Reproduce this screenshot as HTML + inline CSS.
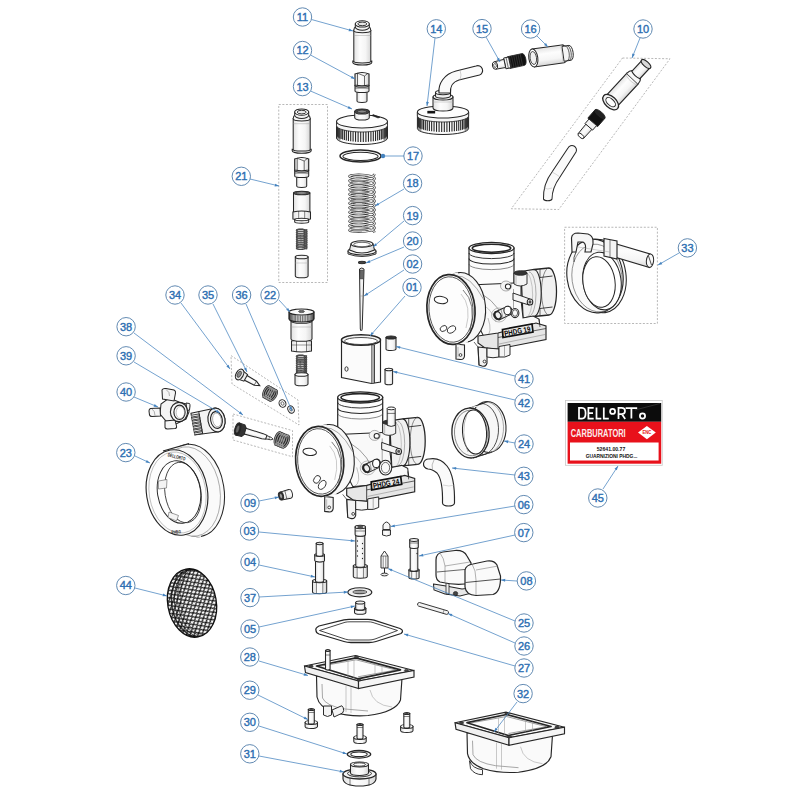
<!DOCTYPE html>
<html><head><meta charset="utf-8"><style>
html,body{margin:0;padding:0;background:#fff;width:800px;height:800px;overflow:hidden}
svg{display:block}
.n{font-family:"Liberation Sans",sans-serif;font-weight:normal;font-size:11px;fill:#2d6fb2;stroke:#2d6fb2;stroke-width:0.4px}
</style></head><body>
<svg width="800" height="800" viewBox="0 0 800 800">
<defs>
<linearGradient id="cyl" x1="0" x2="1" y1="0" y2="0">
<stop offset="0" stop-color="#e2e2e2"/><stop offset="0.35" stop-color="#fdfdfd"/><stop offset="0.7" stop-color="#f5f5f5"/><stop offset="1" stop-color="#d6d6d6"/>
</linearGradient>
<linearGradient id="cylv" x1="0" x2="0" y1="0" y2="1">
<stop offset="0" stop-color="#e2e2e2"/><stop offset="0.35" stop-color="#fdfdfd"/><stop offset="0.7" stop-color="#f5f5f5"/><stop offset="1" stop-color="#d6d6d6"/>
</linearGradient>
</defs>
<rect width="800" height="800" fill="#fff"/>
<polygon points="278.75,104.5 327.5,104.5 327.5,282.5 278.75,282.5" fill="none" stroke="#9a9a9a" stroke-width="0.7" stroke-dasharray="2 1.6"/>
<polygon points="622.5,58 670,58.75 558.75,209.5 511.25,208.75" fill="none" stroke="#9a9a9a" stroke-width="0.7" stroke-dasharray="2 1.6"/>
<polygon points="564.6,227.25 657.4,227.25 657.4,323.5 564.6,323.5" fill="none" stroke="#9a9a9a" stroke-width="0.7" stroke-dasharray="2 1.6"/>
<polygon points="231,355.6 298,400 299,425 232,384" fill="none" stroke="#9a9a9a" stroke-width="0.7" stroke-dasharray="2 1.6"/>
<polygon points="233,414 292.5,430.6 292.5,456.8 233,440" fill="none" stroke="#9a9a9a" stroke-width="0.7" stroke-dasharray="2 1.6"/>
<path d="M353.8,30.5 L353.8,61.5 A8.5,2.2 0 0 0 370.8,61.5 L370.8,30.5 Z" fill="url(#cyl)" stroke="#262626" stroke-width="1.03"/><ellipse cx="362.3" cy="30.5" rx="8.5" ry="2.2" fill="#f4f4f4" stroke="#262626" stroke-width="1.03" />
<path d="M352.8,60.5 L352.8,62.5 A9.5,2.6 0 0 0 371.8,62.5 L371.8,60.5 A9.5,2.4 0 0 1 352.8,60.5 Z" fill="#efefef" stroke="#262626" stroke-width="1.03" />
<line x1="353.8" y1="35.5" x2="370.8" y2="35.5" stroke="#999" stroke-width="0.46" />
<path d="M353.8,30.5 Q353.8,27.5 356,26.5 L368.6,26.5 Q370.8,27.5 370.8,30.5" fill="#f7f7f7" stroke="#262626" stroke-width="1.03" />
<path d="M355.3,23.9 L355.3,27 A7,3.2 0 0 0 369.3,27 L369.3,23.9 Z" fill="#f3f3f3" stroke="#262626" stroke-width="1.03"/><ellipse cx="362.3" cy="23.9" rx="7" ry="3.2" fill="#fff" stroke="#262626" stroke-width="1.03" />
<ellipse cx="362.3" cy="23.9" rx="4.5" ry="1.8" fill="#e8e8e8" stroke="#262626" stroke-width="0.92" />
<path d="M357,91 L357,101 A5,1.4 0 0 0 367,101 L367,91 Z" fill="url(#cyl)" stroke="#262626" stroke-width="1.03"/><ellipse cx="362" cy="91" rx="5" ry="1.4" fill="#fff" stroke="#262626" stroke-width="1.03" />
<path d="M355,85.5 L355,91 A7,1.6 0 0 0 369,91 L369,85.5 Z" fill="url(#cyl)" stroke="#262626" stroke-width="1.03"/><ellipse cx="362" cy="85.5" rx="7" ry="1.6" fill="#fff" stroke="#262626" stroke-width="1.03" />
<line x1="355" y1="88" x2="369" y2="88" stroke="#262626" stroke-width="0.69" />
<path d="M355,74 L355,85 Q362,86.5 369,85 L369,74 Q362,71 355,74 Z" fill="url(#cyl)" stroke="#262626" stroke-width="1.15" />
<line x1="357.5" y1="73" x2="357.5" y2="85.5" stroke="#262626" stroke-width="0.69" />
<line x1="364.5" y1="76" x2="364.5" y2="86" stroke="#262626" stroke-width="0.69" />
<path d="M357.5,73.2 L364.5,76 L368,73.2" fill="none" stroke="#262626" stroke-width="0.69" />
<path d="M336.5,121.5 L336.5,138 A25.5,6.5 0 0 0 387.5,138 L387.5,121.5 Z" fill="#fafafa" stroke="#262626" stroke-width="1"/>
<line x1="337.13" y1="123.64" x2="337.13" y2="135.84" stroke="#262626" stroke-width="1.09" />
<line x1="337.41" y1="124.32" x2="337.41" y2="136.52" stroke="#262626" stroke-width="1.09" />
<line x1="337.95" y1="124.98" x2="337.95" y2="137.18" stroke="#262626" stroke-width="1.09" />
<line x1="338.75" y1="125.63" x2="338.75" y2="137.83" stroke="#262626" stroke-width="1.09" />
<line x1="339.81" y1="126.25" x2="339.81" y2="138.45" stroke="#262626" stroke-width="1.09" />
<line x1="341.12" y1="126.84" x2="341.12" y2="139.04" stroke="#262626" stroke-width="1.09" />
<line x1="342.65" y1="127.39" x2="342.65" y2="139.59" stroke="#262626" stroke-width="1.09" />
<line x1="344.39" y1="127.9" x2="344.39" y2="140.1" stroke="#262626" stroke-width="1.09" />
<line x1="346.33" y1="128.35" x2="346.33" y2="140.55" stroke="#262626" stroke-width="1.09" />
<line x1="348.44" y1="128.75" x2="348.44" y2="140.95" stroke="#262626" stroke-width="1.09" />
<line x1="350.7" y1="129.09" x2="350.7" y2="141.29" stroke="#262626" stroke-width="1.09" />
<line x1="353.08" y1="129.37" x2="353.08" y2="141.57" stroke="#262626" stroke-width="1.09" />
<line x1="355.56" y1="129.58" x2="355.56" y2="141.78" stroke="#262626" stroke-width="1.09" />
<line x1="358.1" y1="129.72" x2="358.1" y2="141.92" stroke="#262626" stroke-width="1.09" />
<line x1="360.7" y1="129.79" x2="360.7" y2="141.99" stroke="#262626" stroke-width="1.09" />
<line x1="363.3" y1="129.79" x2="363.3" y2="141.99" stroke="#262626" stroke-width="1.09" />
<line x1="365.9" y1="129.72" x2="365.9" y2="141.92" stroke="#262626" stroke-width="1.09" />
<line x1="368.44" y1="129.58" x2="368.44" y2="141.78" stroke="#262626" stroke-width="1.09" />
<line x1="370.92" y1="129.37" x2="370.92" y2="141.57" stroke="#262626" stroke-width="1.09" />
<line x1="373.3" y1="129.09" x2="373.3" y2="141.29" stroke="#262626" stroke-width="1.09" />
<line x1="375.56" y1="128.75" x2="375.56" y2="140.95" stroke="#262626" stroke-width="1.09" />
<line x1="377.67" y1="128.35" x2="377.67" y2="140.55" stroke="#262626" stroke-width="1.09" />
<line x1="379.61" y1="127.9" x2="379.61" y2="140.1" stroke="#262626" stroke-width="1.09" />
<line x1="381.35" y1="127.39" x2="381.35" y2="139.59" stroke="#262626" stroke-width="1.09" />
<line x1="382.88" y1="126.84" x2="382.88" y2="139.04" stroke="#262626" stroke-width="1.09" />
<line x1="384.19" y1="126.25" x2="384.19" y2="138.45" stroke="#262626" stroke-width="1.09" />
<line x1="385.25" y1="125.63" x2="385.25" y2="137.83" stroke="#262626" stroke-width="1.09" />
<line x1="386.05" y1="124.98" x2="386.05" y2="137.18" stroke="#262626" stroke-width="1.09" />
<line x1="386.59" y1="124.32" x2="386.59" y2="136.52" stroke="#262626" stroke-width="1.09" />
<line x1="386.87" y1="123.64" x2="386.87" y2="135.84" stroke="#262626" stroke-width="1.09" />
<path d="M336.5,126.5 L336.5,138 A25.5,6.5 0 0 0 340.5,141 L340.5,129.5 Z" fill="#333" opacity="0.5"/>
<path d="M387.5,126.5 L387.5,138 A25.5,6.5 0 0 1 383.5,141 L383.5,129.5 Z" fill="#333" opacity="0.5"/>
<path d="M336.5,121.5 L336.5,125.5 A25.5,6.5 0 0 0 387.5,125.5 L387.5,121.5 Z" fill="#f6f6f6" stroke="#262626" stroke-width="0.8"/>
<ellipse cx="362" cy="121.5" rx="25.5" ry="6.5" fill="#fdfdfd" stroke="#262626" stroke-width="1.03" />
<path d="M354.7,111.5 L354.7,117.5 A7.3,2.6 0 0 0 369.3,117.5 L369.3,111.5 Z" fill="url(#cyl)" stroke="#262626" stroke-width="1.03"/><ellipse cx="362" cy="111.5" rx="7.3" ry="2.6" fill="#444" stroke="#262626" stroke-width="1.03" />
<ellipse cx="362" cy="111.5" rx="4.2" ry="1.5" fill="#888" stroke="#262626" stroke-width="0.69" />
<path d="M372,115.5 L378,118 L380,117.3 L373,114.5 Z" fill="#222" stroke="#262626" stroke-width="0.57" />
<path d="M417.4,112 L417.4,128.5 A25.6,6 0 0 0 468.6,128.5 L468.6,112 Z" fill="#fafafa" stroke="#262626" stroke-width="1"/>
<line x1="418.03" y1="114.11" x2="418.03" y2="126.31" stroke="#262626" stroke-width="1.09" />
<line x1="418.31" y1="114.74" x2="418.31" y2="126.94" stroke="#262626" stroke-width="1.09" />
<line x1="418.85" y1="115.35" x2="418.85" y2="127.55" stroke="#262626" stroke-width="1.09" />
<line x1="419.66" y1="115.95" x2="419.66" y2="128.15" stroke="#262626" stroke-width="1.09" />
<line x1="420.72" y1="116.52" x2="420.72" y2="128.72" stroke="#262626" stroke-width="1.09" />
<line x1="422.03" y1="117.07" x2="422.03" y2="129.27" stroke="#262626" stroke-width="1.09" />
<line x1="423.57" y1="117.58" x2="423.57" y2="129.78" stroke="#262626" stroke-width="1.09" />
<line x1="425.32" y1="118.04" x2="425.32" y2="130.24" stroke="#262626" stroke-width="1.09" />
<line x1="427.27" y1="118.46" x2="427.27" y2="130.66" stroke="#262626" stroke-width="1.09" />
<line x1="429.38" y1="118.83" x2="429.38" y2="131.03" stroke="#262626" stroke-width="1.09" />
<line x1="431.65" y1="119.15" x2="431.65" y2="131.35" stroke="#262626" stroke-width="1.09" />
<line x1="434.04" y1="119.4" x2="434.04" y2="131.6" stroke="#262626" stroke-width="1.09" />
<line x1="436.53" y1="119.6" x2="436.53" y2="131.8" stroke="#262626" stroke-width="1.09" />
<line x1="439.09" y1="119.73" x2="439.09" y2="131.93" stroke="#262626" stroke-width="1.09" />
<line x1="441.69" y1="119.79" x2="441.69" y2="131.99" stroke="#262626" stroke-width="1.09" />
<line x1="444.31" y1="119.79" x2="444.31" y2="131.99" stroke="#262626" stroke-width="1.09" />
<line x1="446.91" y1="119.73" x2="446.91" y2="131.93" stroke="#262626" stroke-width="1.09" />
<line x1="449.47" y1="119.6" x2="449.47" y2="131.8" stroke="#262626" stroke-width="1.09" />
<line x1="451.96" y1="119.4" x2="451.96" y2="131.6" stroke="#262626" stroke-width="1.09" />
<line x1="454.35" y1="119.15" x2="454.35" y2="131.35" stroke="#262626" stroke-width="1.09" />
<line x1="456.62" y1="118.83" x2="456.62" y2="131.03" stroke="#262626" stroke-width="1.09" />
<line x1="458.73" y1="118.46" x2="458.73" y2="130.66" stroke="#262626" stroke-width="1.09" />
<line x1="460.68" y1="118.04" x2="460.68" y2="130.24" stroke="#262626" stroke-width="1.09" />
<line x1="462.43" y1="117.58" x2="462.43" y2="129.78" stroke="#262626" stroke-width="1.09" />
<line x1="463.97" y1="117.07" x2="463.97" y2="129.27" stroke="#262626" stroke-width="1.09" />
<line x1="465.28" y1="116.52" x2="465.28" y2="128.72" stroke="#262626" stroke-width="1.09" />
<line x1="466.34" y1="115.95" x2="466.34" y2="128.15" stroke="#262626" stroke-width="1.09" />
<line x1="467.15" y1="115.35" x2="467.15" y2="127.55" stroke="#262626" stroke-width="1.09" />
<line x1="467.69" y1="114.74" x2="467.69" y2="126.94" stroke="#262626" stroke-width="1.09" />
<line x1="467.97" y1="114.11" x2="467.97" y2="126.31" stroke="#262626" stroke-width="1.09" />
<path d="M417.4,117 L417.4,128.5 A25.6,6 0 0 0 421.4,131.5 L421.4,120 Z" fill="#333" opacity="0.5"/>
<path d="M468.6,117 L468.6,128.5 A25.6,6 0 0 1 464.6,131.5 L464.6,120 Z" fill="#333" opacity="0.5"/>
<path d="M417.4,112 L417.4,116 A25.6,6 0 0 0 468.6,116 L468.6,112 Z" fill="#f6f6f6" stroke="#262626" stroke-width="0.8"/>
<ellipse cx="443" cy="112" rx="25.6" ry="6" fill="#fdfdfd" stroke="#262626" stroke-width="1.03" />
<path d="M443,95 " fill="none" stroke="#262626" stroke-width="1.03" />
<path d="M433,97 L433,108 A10,3 0 0 0 453,108 L453,97 Z" fill="url(#cyl)" stroke="#262626" stroke-width="1.03"/><ellipse cx="443" cy="97" rx="10" ry="3" fill="#f4f4f4" stroke="#262626" stroke-width="1.03" />
<line x1="433" y1="102" x2="453" y2="102" stroke="#aaa" stroke-width="0.46" />
<path d="M435.5,92.5 L435.5,96 A7.5,2.2 0 0 0 450.5,96 L450.5,92.5 Z" fill="#f0f0f0" stroke="#262626" stroke-width="1.03"/><ellipse cx="443" cy="92.5" rx="7.5" ry="2.2" fill="#fff" stroke="#262626" stroke-width="1.03" />
<path d="M427.5,111 L435,111 L435,113.3 L427.5,113.3 Z" fill="#111" stroke="#262626" stroke-width="0.34" />
<path d="M439,93 C438,84 444,74 456,71 L476,66 A4.8,4.8 0 0 1 479.5,75 L459,80 C452,82 450,88 450.5,93 Z" fill="#fafafa" stroke="#262626" stroke-width="1.09" />
<path d="M460,70 Q462,75 460,80" fill="none" stroke="#999" stroke-width="0.46" />
<g transform="translate(533.3,58) rotate(-8)"><path d="M0,-9 L30,-9 A4.5,9 0 0 1 30,9 L0,9 Z" fill="url(#cylv)" stroke="#262626" stroke-width="1.03" /><ellipse cx="0" cy="0" rx="4.5" ry="9" fill="#fff" stroke="#262626" stroke-width="1.03" /><ellipse cx="0" cy="0" rx="3.2" ry="6.5" fill="#f0f0f0" stroke="#262626" stroke-width="0.8" /><path d="M30,-7.5 L37,-7.5 A3.2,7.5 0 0 1 37,7.5 L30,7.5 Z" fill="#f5f5f5" stroke="#262626" stroke-width="0.92" /><path d="M33,-7.5 A3.2,7.5 0 0 1 33,7.5" fill="none" stroke="#262626" stroke-width="0.69" /><path d="M35,-7.5 A3.2,7.5 0 0 1 35,7.5" fill="none" stroke="#262626" stroke-width="0.69" /><line x1="29" y1="-9" x2="29" y2="9" stroke="#aaa" stroke-width="0.46" /></g>
<g transform="translate(495,65.5) rotate(-12)"><path d="M14,-6 L29,-6 A2.5,6 0 0 1 29,6 L14,6 Z" fill="#111" stroke="#262626" stroke-width="0.8" /><line x1="16" y1="-6" x2="16" y2="6" stroke="#666" stroke-width="0.34" /><line x1="18.2" y1="-6" x2="18.2" y2="6" stroke="#666" stroke-width="0.34" /><line x1="20.4" y1="-6" x2="20.4" y2="6" stroke="#666" stroke-width="0.34" /><line x1="22.6" y1="-6" x2="22.6" y2="6" stroke="#666" stroke-width="0.34" /><line x1="24.8" y1="-6" x2="24.8" y2="6" stroke="#666" stroke-width="0.34" /><line x1="27" y1="-6" x2="27" y2="6" stroke="#666" stroke-width="0.34" /><path d="M10,-5.5 L15,-5.5 L15,5.5 L10,5.5 Z" fill="#f2f2f2" stroke="#262626" stroke-width="0.92" /><line x1="12.5" y1="-5.5" x2="12.5" y2="5.5" stroke="#262626" stroke-width="0.57" /><path d="M0,-3.8 L10,-4.2 L10,4.2 L0,3.8 Z" fill="url(#cylv)" stroke="#262626" stroke-width="0.92" /><ellipse cx="0" cy="0" rx="2.6" ry="3.8" fill="#fff" stroke="#262626" stroke-width="0.92" /><ellipse cx="0" cy="0" rx="1.3" ry="2" fill="#fff" stroke="#262626" stroke-width="0.69" /></g>
<g transform="translate(646,64) rotate(42.8)"><path d="M-7.8,20 L-7.8,52 A7.8,4.2 0 0 0 7.8,52 L7.8,20 Z" fill="url(#cyl)" stroke="#262626" stroke-width="1.15" /><path d="M-7.8,20 Q-7.8,16 -5.5,14 L5.5,14 Q7.8,16 7.8,20" fill="#f8f8f8" stroke="#262626" stroke-width="1.09" /><path d="M-5.5,0 L-5.5,15 Q0,17 5.5,15 L5.5,0 Z" fill="url(#cyl)" stroke="#262626" stroke-width="1.09" /><ellipse cx="0" cy="0" rx="6" ry="2.6" fill="#d8d8d8" stroke="#262626" stroke-width="1.15" /><path d="M-7.5,22 Q0,24 7.5,22" fill="none" stroke="#aaa" stroke-width="0.46" /><ellipse cx="0" cy="52" rx="9.5" ry="5.6" fill="#f2f2f2" stroke="#262626" stroke-width="1.26" /><ellipse cx="0" cy="52" rx="5.8" ry="3.2" fill="#fff" stroke="#262626" stroke-width="0.98" /></g>
<g transform="translate(600,114) rotate(41)"><path d="M-6.5,0 L-6.5,11 Q0,13 6.5,11 L6.5,0 Z" fill="#111" stroke="#262626" stroke-width="0.92" /><ellipse cx="0" cy="0" rx="6.5" ry="2.4" fill="#222" stroke="#262626" stroke-width="0.92" /><path d="M-5,11 L-5,17 Q0,18.5 5,17 L5,11 Z" fill="#f2f2f2" stroke="#262626" stroke-width="0.92" /><path d="M-4,17 L-3.6,29 Q0,30.5 3.6,29 L4,17 Z" fill="url(#cyl)" stroke="#262626" stroke-width="0.92" /><ellipse cx="0" cy="29" rx="3.6" ry="1.8" fill="#fff" stroke="#262626" stroke-width="0.92" /></g>
<path d="M568,148 A3.8,3.8 0 0 1 576,152 L560,177 Q552,188 552,199 A4.3,2 0 0 1 543.5,199 Q543,184 552,172 Z" fill="#fafafa" stroke="#262626" stroke-width="1.03" />
<path d="M552,172 Q556,174 560,177" fill="none" stroke="#aaa" stroke-width="0.46" />
<path d="M543.6,188 Q548,190 552,188" fill="none" stroke="#aaa" stroke-width="0.46" />
<ellipse cx="360.5" cy="156" rx="20.5" ry="6" fill="none" stroke="#262626" stroke-width="1.49" />
<ellipse cx="360.5" cy="156.3" rx="17.6" ry="4.1" fill="none" stroke="#262626" stroke-width="1.03" />
<path d="M374.60,174.10 L374.17,174.96 L372.91,175.77 L370.91,176.50 L368.30,177.10 L365.26,177.55 L362.00,177.82 L358.74,177.92 L355.70,177.85 L353.09,177.62 L351.09,177.27 L349.83,176.83 L349.40,176.34 L349.83,175.86 L351.09,175.42 L353.09,175.06 L355.70,174.84 L358.74,174.77 L362.00,174.86 L365.26,175.14 L368.30,175.59 L370.91,176.19 L372.91,176.91 L374.17,177.72 L374.60,178.58 L374.17,179.44 L372.91,180.26 L370.91,180.98 L368.30,181.58 L365.26,182.03 L362.00,182.31 L358.74,182.40 L355.70,182.33 L353.09,182.10 L351.09,181.75 L349.83,181.31 L349.40,180.83 L349.83,180.34 L351.09,179.90 L353.09,179.55 L355.70,179.32 L358.74,179.25 L362.00,179.35 L365.26,179.62 L368.30,180.07 L370.91,180.67 L372.91,181.40 L374.17,182.21 L374.60,183.07 L374.17,183.93 L372.91,184.74 L370.91,185.47 L368.30,186.07 L365.26,186.51 L362.00,186.79 L358.74,186.89 L355.70,186.82 L353.09,186.59 L351.09,186.24 L349.83,185.80 L349.40,185.31 L349.83,184.83 L351.09,184.39 L353.09,184.03 L355.70,183.81 L358.74,183.73 L362.00,183.83 L365.26,184.11 L368.30,184.55 L370.91,185.15 L372.91,185.88 L374.17,186.69 L374.60,187.55 L374.17,188.41 L372.91,189.23 L370.91,189.95 L368.30,190.55 L365.26,191.00 L362.00,191.27 L358.74,191.37 L355.70,191.30 L353.09,191.07 L351.09,190.72 L349.83,190.28 L349.40,189.80 L349.83,189.31 L351.09,188.87 L353.09,188.52 L355.70,188.29 L358.74,188.22 L362.00,188.32 L365.26,188.59 L368.30,189.04 L370.91,189.64 L372.91,190.36 L374.17,191.18 L374.60,192.04 L374.17,192.90 L372.91,193.71 L370.91,194.44 L368.30,195.04 L365.26,195.48 L362.00,195.76 L358.74,195.86 L355.70,195.78 L353.09,195.56 L351.09,195.21 L349.83,194.77 L349.40,194.28 L349.83,193.79 L351.09,193.35 L353.09,193.00 L355.70,192.78 L358.74,192.70 L362.00,192.80 L365.26,193.08 L368.30,193.52 L370.91,194.12 L372.91,194.85 L374.17,195.66 L374.60,196.52 L374.17,197.38 L372.91,198.20 L370.91,198.92 L368.30,199.52 L365.26,199.97 L362.00,200.24 L358.74,200.34 L355.70,200.27 L353.09,200.04 L351.09,199.69 L349.83,199.25 L349.40,198.77 L349.83,198.28 L351.09,197.84 L353.09,197.49 L355.70,197.26 L358.74,197.19 L362.00,197.29 L365.26,197.56 L368.30,198.01 L370.91,198.61 L372.91,199.33 L374.17,200.15 L374.60,201.01 L374.17,201.87 L372.91,202.68 L370.91,203.41 L368.30,204.01 L365.26,204.45 L362.00,204.73 L358.74,204.83 L355.70,204.75 L353.09,204.53 L351.09,204.18 L349.83,203.74 L349.40,203.25 L349.83,202.76 L351.09,202.32 L353.09,201.97 L355.70,201.75 L358.74,201.67 L362.00,201.77 L365.26,202.05 L368.30,202.49 L370.91,203.09 L372.91,203.82 L374.17,204.63 L374.60,205.49 L374.17,206.35 L372.91,207.17 L370.91,207.89 L368.30,208.49 L365.26,208.94 L362.00,209.21 L358.74,209.31 L355.70,209.24 L353.09,209.01 L351.09,208.66 L349.83,208.22 L349.40,207.73 L349.83,207.25 L351.09,206.81 L353.09,206.46 L355.70,206.23 L358.74,206.16 L362.00,206.26 L365.26,206.53 L368.30,206.98 L370.91,207.58 L372.91,208.30 L374.17,209.12 L374.60,209.98 L374.17,210.84 L372.91,211.65 L370.91,212.38 L368.30,212.98 L365.26,213.42 L362.00,213.70 L358.74,213.80 L355.70,213.72 L353.09,213.50 L351.09,213.15 L349.83,212.71 L349.40,212.22 L349.83,211.73 L351.09,211.29 L353.09,210.94 L355.70,210.72 L358.74,210.64 L362.00,210.74 L365.26,211.02 L368.30,211.46 L370.91,212.06 L372.91,212.79 L374.17,213.60 L374.60,214.46 L374.17,215.32 L372.91,216.14 L370.91,216.86 L368.30,217.46 L365.26,217.91 L362.00,218.18 L358.74,218.28 L355.70,218.21 L353.09,217.98 L351.09,217.63 L349.83,217.19 L349.40,216.70 L349.83,216.22 L351.09,215.78 L353.09,215.43 L355.70,215.20 L358.74,215.13 L362.00,215.22 L365.26,215.50 L368.30,215.95 L370.91,216.55 L372.91,217.27 L374.17,218.09 L374.60,218.95 L374.17,219.81 L372.91,220.62 L370.91,221.35 L368.30,221.95 L365.26,222.39 L362.00,222.67 L358.74,222.77 L355.70,222.69 L353.09,222.47 L351.09,222.11 L349.83,221.67 L349.40,221.19 L349.83,220.70 L351.09,220.26 L353.09,219.91 L355.70,219.68 L358.74,219.61 L362.00,219.71 L365.26,219.99 L368.30,220.43 L370.91,221.03 L372.91,221.76 L374.17,222.57 L374.60,223.43 L374.17,224.29 L372.91,225.10 L370.91,225.83 L368.30,226.43 L365.26,226.88 L362.00,227.15 L358.74,227.25 L355.70,227.18 L353.09,226.95 L351.09,226.60 L349.83,226.16 L349.40,225.67 L349.83,225.19 L351.09,224.75 L353.09,224.40 L355.70,224.17 L358.74,224.10 L362.00,224.19 L365.26,224.47 L368.30,224.92 L370.91,225.52 L372.91,226.24 L374.17,227.06 L374.60,227.92 L374.17,228.78 L372.91,229.59 L370.91,230.31 L368.30,230.91 L365.26,231.36 L362.00,231.64 L358.74,231.73 L355.70,231.66 L353.09,231.44 L351.09,231.08 L349.83,230.64 L349.40,230.16 L349.83,229.67 L351.09,229.23 L353.09,228.88 L355.70,228.65 L358.74,228.58 L362.00,228.68 L365.26,228.95 L368.30,229.40 L370.91,230.00 L372.91,230.73 L374.17,231.54 L374.60,232.40" fill="none" stroke="#333" stroke-width="2.32" stroke-linejoin="round"/>
<path d="M374.60,174.10 L374.17,174.96 L372.91,175.77 L370.91,176.50 L368.30,177.10 L365.26,177.55 L362.00,177.82 L358.74,177.92 L355.70,177.85 L353.09,177.62 L351.09,177.27 L349.83,176.83 L349.40,176.34 L349.83,175.86 L351.09,175.42 L353.09,175.06 L355.70,174.84 L358.74,174.77 L362.00,174.86 L365.26,175.14 L368.30,175.59 L370.91,176.19 L372.91,176.91 L374.17,177.72 L374.60,178.58 L374.17,179.44 L372.91,180.26 L370.91,180.98 L368.30,181.58 L365.26,182.03 L362.00,182.31 L358.74,182.40 L355.70,182.33 L353.09,182.10 L351.09,181.75 L349.83,181.31 L349.40,180.83 L349.83,180.34 L351.09,179.90 L353.09,179.55 L355.70,179.32 L358.74,179.25 L362.00,179.35 L365.26,179.62 L368.30,180.07 L370.91,180.67 L372.91,181.40 L374.17,182.21 L374.60,183.07 L374.17,183.93 L372.91,184.74 L370.91,185.47 L368.30,186.07 L365.26,186.51 L362.00,186.79 L358.74,186.89 L355.70,186.82 L353.09,186.59 L351.09,186.24 L349.83,185.80 L349.40,185.31 L349.83,184.83 L351.09,184.39 L353.09,184.03 L355.70,183.81 L358.74,183.73 L362.00,183.83 L365.26,184.11 L368.30,184.55 L370.91,185.15 L372.91,185.88 L374.17,186.69 L374.60,187.55 L374.17,188.41 L372.91,189.23 L370.91,189.95 L368.30,190.55 L365.26,191.00 L362.00,191.27 L358.74,191.37 L355.70,191.30 L353.09,191.07 L351.09,190.72 L349.83,190.28 L349.40,189.80 L349.83,189.31 L351.09,188.87 L353.09,188.52 L355.70,188.29 L358.74,188.22 L362.00,188.32 L365.26,188.59 L368.30,189.04 L370.91,189.64 L372.91,190.36 L374.17,191.18 L374.60,192.04 L374.17,192.90 L372.91,193.71 L370.91,194.44 L368.30,195.04 L365.26,195.48 L362.00,195.76 L358.74,195.86 L355.70,195.78 L353.09,195.56 L351.09,195.21 L349.83,194.77 L349.40,194.28 L349.83,193.79 L351.09,193.35 L353.09,193.00 L355.70,192.78 L358.74,192.70 L362.00,192.80 L365.26,193.08 L368.30,193.52 L370.91,194.12 L372.91,194.85 L374.17,195.66 L374.60,196.52 L374.17,197.38 L372.91,198.20 L370.91,198.92 L368.30,199.52 L365.26,199.97 L362.00,200.24 L358.74,200.34 L355.70,200.27 L353.09,200.04 L351.09,199.69 L349.83,199.25 L349.40,198.77 L349.83,198.28 L351.09,197.84 L353.09,197.49 L355.70,197.26 L358.74,197.19 L362.00,197.29 L365.26,197.56 L368.30,198.01 L370.91,198.61 L372.91,199.33 L374.17,200.15 L374.60,201.01 L374.17,201.87 L372.91,202.68 L370.91,203.41 L368.30,204.01 L365.26,204.45 L362.00,204.73 L358.74,204.83 L355.70,204.75 L353.09,204.53 L351.09,204.18 L349.83,203.74 L349.40,203.25 L349.83,202.76 L351.09,202.32 L353.09,201.97 L355.70,201.75 L358.74,201.67 L362.00,201.77 L365.26,202.05 L368.30,202.49 L370.91,203.09 L372.91,203.82 L374.17,204.63 L374.60,205.49 L374.17,206.35 L372.91,207.17 L370.91,207.89 L368.30,208.49 L365.26,208.94 L362.00,209.21 L358.74,209.31 L355.70,209.24 L353.09,209.01 L351.09,208.66 L349.83,208.22 L349.40,207.73 L349.83,207.25 L351.09,206.81 L353.09,206.46 L355.70,206.23 L358.74,206.16 L362.00,206.26 L365.26,206.53 L368.30,206.98 L370.91,207.58 L372.91,208.30 L374.17,209.12 L374.60,209.98 L374.17,210.84 L372.91,211.65 L370.91,212.38 L368.30,212.98 L365.26,213.42 L362.00,213.70 L358.74,213.80 L355.70,213.72 L353.09,213.50 L351.09,213.15 L349.83,212.71 L349.40,212.22 L349.83,211.73 L351.09,211.29 L353.09,210.94 L355.70,210.72 L358.74,210.64 L362.00,210.74 L365.26,211.02 L368.30,211.46 L370.91,212.06 L372.91,212.79 L374.17,213.60 L374.60,214.46 L374.17,215.32 L372.91,216.14 L370.91,216.86 L368.30,217.46 L365.26,217.91 L362.00,218.18 L358.74,218.28 L355.70,218.21 L353.09,217.98 L351.09,217.63 L349.83,217.19 L349.40,216.70 L349.83,216.22 L351.09,215.78 L353.09,215.43 L355.70,215.20 L358.74,215.13 L362.00,215.22 L365.26,215.50 L368.30,215.95 L370.91,216.55 L372.91,217.27 L374.17,218.09 L374.60,218.95 L374.17,219.81 L372.91,220.62 L370.91,221.35 L368.30,221.95 L365.26,222.39 L362.00,222.67 L358.74,222.77 L355.70,222.69 L353.09,222.47 L351.09,222.11 L349.83,221.67 L349.40,221.19 L349.83,220.70 L351.09,220.26 L353.09,219.91 L355.70,219.68 L358.74,219.61 L362.00,219.71 L365.26,219.99 L368.30,220.43 L370.91,221.03 L372.91,221.76 L374.17,222.57 L374.60,223.43 L374.17,224.29 L372.91,225.10 L370.91,225.83 L368.30,226.43 L365.26,226.88 L362.00,227.15 L358.74,227.25 L355.70,227.18 L353.09,226.95 L351.09,226.60 L349.83,226.16 L349.40,225.67 L349.83,225.19 L351.09,224.75 L353.09,224.40 L355.70,224.17 L358.74,224.10 L362.00,224.19 L365.26,224.47 L368.30,224.92 L370.91,225.52 L372.91,226.24 L374.17,227.06 L374.60,227.92 L374.17,228.78 L372.91,229.59 L370.91,230.31 L368.30,230.91 L365.26,231.36 L362.00,231.64 L358.74,231.73 L355.70,231.66 L353.09,231.44 L351.09,231.08 L349.83,230.64 L349.40,230.16 L349.83,229.67 L351.09,229.23 L353.09,228.88 L355.70,228.65 L358.74,228.58 L362.00,228.68 L365.26,228.95 L368.30,229.40 L370.91,230.00 L372.91,230.73 L374.17,231.54 L374.60,232.40" fill="none" stroke="#e6e6e6" stroke-width="1.06" stroke-linejoin="round"/>
<path d="M348,251 L348,254 Q362,259 376,254 L376,251 Z" fill="#eee" stroke="#262626" stroke-width="0.92" />
<ellipse cx="362" cy="251" rx="14" ry="4" fill="#f8f8f8" stroke="#262626" stroke-width="1.03" />
<path d="M351,244 L349.5,250 Q362,256 374.5,250 L373,244 Z" fill="url(#cyl)" stroke="#262626" stroke-width="1.03" />
<ellipse cx="362" cy="244" rx="11" ry="3.2" fill="#f0f0f0" stroke="#262626" stroke-width="1.03" />
<ellipse cx="362" cy="244.5" rx="8.2" ry="2.2" fill="#fff" stroke="#262626" stroke-width="0.69" />
<ellipse cx="362" cy="262.5" rx="4" ry="1.2" fill="#444" stroke="#262626" stroke-width="0.92" />
<path d="M359.5,269 L360.3,329 Q361.2,333 362.2,329 L364,269 Q361.8,267 359.5,269 Z" fill="#f3f3f3" stroke="#262626" stroke-width="0.98" />
<path d="M360,270 L363.7,270 L363.6,279 L360.1,279 Z" fill="#666" stroke="#262626" stroke-width="0.34" />
<line x1="360.3" y1="296" x2="363.6" y2="296" stroke="#888" stroke-width="0.46" />
<path d="M341.5,340 L341.5,377.5 L371.5,383.5 L380.5,382 L380.5,340 Z" fill="#fbfbfb" stroke="#262626" stroke-width="1.15" />
<path d="M371.5,345 L371.5,383.5 L374.5,383 L374.5,345 Z" fill="#aaa" stroke="#262626" stroke-width="0.46" />
<line x1="374.5" y1="345" x2="374.5" y2="383" stroke="#262626" stroke-width="0.69" />
<ellipse cx="361" cy="340" rx="19.5" ry="5.2" fill="#f3f3f3" stroke="#262626" stroke-width="1.49" />
<ellipse cx="361" cy="341" rx="16.5" ry="3.5" fill="#fff" stroke="#262626" stroke-width="0.8" />
<ellipse cx="346.5" cy="369" rx="1.6" ry="2.2" fill="#fff" stroke="#262626" stroke-width="0.92" />
<path d="M386,337.5 L386,349 A5,1.6 0 0 0 396,349 L396,337.5 Z" fill="url(#cyl)" stroke="#262626" stroke-width="1.03"/><ellipse cx="391" cy="337.5" rx="5" ry="1.6" fill="#333" stroke="#262626" stroke-width="1.03" />
<path d="M385,369.5 L385,383.5 A3.8,1.3 0 0 0 392.6,383.5 L392.6,369.5 Z" fill="url(#cyl)" stroke="#262626" stroke-width="1.03"/><ellipse cx="388.8" cy="369.5" rx="3.8" ry="1.3" fill="#f5f5f5" stroke="#262626" stroke-width="1.03" />
<path d="M293.2,118.7 L293.2,149.7 A8.5,2.2 0 0 0 310.2,149.7 L310.2,118.7 Z" fill="url(#cyl)" stroke="#262626" stroke-width="1.03"/><ellipse cx="301.7" cy="118.7" rx="8.5" ry="2.2" fill="#f4f4f4" stroke="#262626" stroke-width="1.03" />
<path d="M292.2,148.7 L292.2,150.7 A9.5,2.6 0 0 0 311.2,150.7 L311.2,148.7 A9.5,2.4 0 0 1 292.2,148.7 Z" fill="#efefef" stroke="#262626" stroke-width="1.03" />
<line x1="293.2" y1="123.7" x2="310.2" y2="123.7" stroke="#999" stroke-width="0.46" />
<path d="M293.2,118.7 Q293.2,115.7 295.4,114.7 L308,114.7 Q310.2,115.7 310.2,118.7" fill="#f7f7f7" stroke="#262626" stroke-width="1.03" />
<path d="M294.7,112.1 L294.7,115.2 A7,3.2 0 0 0 308.7,115.2 L308.7,112.1 Z" fill="#f3f3f3" stroke="#262626" stroke-width="1.03"/><ellipse cx="301.7" cy="112.1" rx="7" ry="3.2" fill="#fff" stroke="#262626" stroke-width="1.03" />
<ellipse cx="301.7" cy="112.1" rx="4.5" ry="1.8" fill="#e8e8e8" stroke="#262626" stroke-width="0.92" />
<path d="M296.7,176 L296.7,186 A5,1.4 0 0 0 306.7,186 L306.7,176 Z" fill="url(#cyl)" stroke="#262626" stroke-width="1.03"/><ellipse cx="301.7" cy="176" rx="5" ry="1.4" fill="#fff" stroke="#262626" stroke-width="1.03" />
<path d="M294.7,170.5 L294.7,176 A7,1.6 0 0 0 308.7,176 L308.7,170.5 Z" fill="url(#cyl)" stroke="#262626" stroke-width="1.03"/><ellipse cx="301.7" cy="170.5" rx="7" ry="1.6" fill="#fff" stroke="#262626" stroke-width="1.03" />
<line x1="294.7" y1="173" x2="308.7" y2="173" stroke="#262626" stroke-width="0.69" />
<path d="M294.7,159 L294.7,170 Q301.7,171.5 308.7,170 L308.7,159 Q301.7,156 294.7,159 Z" fill="url(#cyl)" stroke="#262626" stroke-width="1.15" />
<line x1="297.2" y1="158" x2="297.2" y2="170.5" stroke="#262626" stroke-width="0.69" />
<line x1="304.2" y1="161" x2="304.2" y2="171" stroke="#262626" stroke-width="0.69" />
<path d="M297.2,158.2 L304.2,161 L307.7,158.2" fill="none" stroke="#262626" stroke-width="0.69" />
<path d="M293.5,193 L293.5,212 A8.2,1.8 0 0 0 309.9,212 L309.9,193 Z" fill="url(#cyl)" stroke="#262626" stroke-width="1.03"/><ellipse cx="301.7" cy="193" rx="8.2" ry="1.8" fill="#555" stroke="#262626" stroke-width="1.03" />
<ellipse cx="301.7" cy="193" rx="6" ry="1.2" fill="#999" stroke="#262626" stroke-width="0.57" />
<path d="M292.9,212 L292.9,219 Q301.7,221 310.5,219 L310.5,212 Q301.7,210 292.9,212 Z" fill="url(#cyl)" stroke="#262626" stroke-width="1.03" />
<line x1="298.7" y1="211" x2="298.7" y2="220" stroke="#262626" stroke-width="0.57" />
<line x1="304.7" y1="211" x2="304.7" y2="220" stroke="#262626" stroke-width="0.57" />
<path d="M294.7,219.5 L294.7,222 A7,1.2 0 0 0 308.7,222 L308.7,219.5 Z" fill="#eee" stroke="#262626" stroke-width="1.03"/><ellipse cx="301.7" cy="219.5" rx="7" ry="1.2" fill="#fff" stroke="#262626" stroke-width="1.03" />
<path d="M306.90,229.20 L306.72,229.73 L306.20,230.24 L305.38,230.68 L304.30,231.04 L303.05,231.31 L301.70,231.46 L300.35,231.49 L299.10,231.42 L298.02,231.24 L297.20,230.98 L296.68,230.66 L296.50,230.32 L296.68,229.97 L297.20,229.65 L298.02,229.39 L299.10,229.22 L300.35,229.14 L301.70,229.18 L303.05,229.33 L304.30,229.59 L305.38,229.95 L306.20,230.40 L306.72,230.90 L306.90,231.43 L306.72,231.97 L306.20,232.47 L305.38,232.91 L304.30,233.28 L303.05,233.54 L301.70,233.69 L300.35,233.73 L299.10,233.65 L298.02,233.47 L297.20,233.21 L296.68,232.90 L296.50,232.55 L296.68,232.20 L297.20,231.89 L298.02,231.63 L299.10,231.45 L300.35,231.37 L301.70,231.41 L303.05,231.56 L304.30,231.82 L305.38,232.19 L306.20,232.63 L306.72,233.13 L306.90,233.67 L306.72,234.20 L306.20,234.70 L305.38,235.15 L304.30,235.51 L303.05,235.77 L301.70,235.92 L300.35,235.96 L299.10,235.88 L298.02,235.71 L297.20,235.45 L296.68,235.13 L296.50,234.78 L296.68,234.44 L297.20,234.12 L298.02,233.86 L299.10,233.68 L300.35,233.61 L301.70,233.64 L303.05,233.79 L304.30,234.06 L305.38,234.42 L306.20,234.86 L306.72,235.37 L306.90,235.90 L306.72,236.43 L306.20,236.94 L305.38,237.38 L304.30,237.74 L303.05,238.01 L301.70,238.16 L300.35,238.19 L299.10,238.12 L298.02,237.94 L297.20,237.68 L296.68,237.36 L296.50,237.02 L296.68,236.67 L297.20,236.35 L298.02,236.09 L299.10,235.92 L300.35,235.84 L301.70,235.88 L303.05,236.03 L304.30,236.29 L305.38,236.65 L306.20,237.10 L306.72,237.60 L306.90,238.13 L306.72,238.67 L306.20,239.17 L305.38,239.61 L304.30,239.98 L303.05,240.24 L301.70,240.39 L300.35,240.43 L299.10,240.35 L298.02,240.17 L297.20,239.91 L296.68,239.60 L296.50,239.25 L296.68,238.90 L297.20,238.59 L298.02,238.33 L299.10,238.15 L300.35,238.07 L301.70,238.11 L303.05,238.26 L304.30,238.52 L305.38,238.89 L306.20,239.33 L306.72,239.83 L306.90,240.37 L306.72,240.90 L306.20,241.40 L305.38,241.85 L304.30,242.21 L303.05,242.47 L301.70,242.62 L300.35,242.66 L299.10,242.58 L298.02,242.41 L297.20,242.15 L296.68,241.83 L296.50,241.48 L296.68,241.14 L297.20,240.82 L298.02,240.56 L299.10,240.38 L300.35,240.31 L301.70,240.34 L303.05,240.49 L304.30,240.76 L305.38,241.12 L306.20,241.56 L306.72,242.07 L306.90,242.60 L306.72,243.13 L306.20,243.64 L305.38,244.08 L304.30,244.44 L303.05,244.71 L301.70,244.86 L300.35,244.89 L299.10,244.82 L298.02,244.64 L297.20,244.38 L296.68,244.06 L296.50,243.72 L296.68,243.37 L297.20,243.05 L298.02,242.79 L299.10,242.62 L300.35,242.54 L301.70,242.57 L303.05,242.73 L304.30,242.99 L305.38,243.35 L306.20,243.80 L306.72,244.30 L306.90,244.83 L306.72,245.37 L306.20,245.87 L305.38,246.31 L304.30,246.68 L303.05,246.94 L301.70,247.09 L300.35,247.13 L299.10,247.05 L298.02,246.87 L297.20,246.61 L296.68,246.30 L296.50,245.95 L296.68,245.60 L297.20,245.29 L298.02,245.03 L299.10,244.85 L300.35,244.77 L301.70,244.81 L303.05,244.96 L304.30,245.22 L305.38,245.59 L306.20,246.03 L306.72,246.53 L306.90,247.07 L306.72,247.60 L306.20,248.10 L305.38,248.55 L304.30,248.91 L303.05,249.17 L301.70,249.32 L300.35,249.36 L299.10,249.28 L298.02,249.11 L297.20,248.85 L296.68,248.53 L296.50,248.18 L296.68,247.84 L297.20,247.52 L298.02,247.26 L299.10,247.08 L300.35,247.01 L301.70,247.04 L303.05,247.19 L304.30,247.46 L305.38,247.82 L306.20,248.26 L306.72,248.77 L306.90,249.30" fill="none" stroke="#333" stroke-width="1.44" stroke-linejoin="round"/>
<path d="M306.90,229.20 L306.72,229.73 L306.20,230.24 L305.38,230.68 L304.30,231.04 L303.05,231.31 L301.70,231.46 L300.35,231.49 L299.10,231.42 L298.02,231.24 L297.20,230.98 L296.68,230.66 L296.50,230.32 L296.68,229.97 L297.20,229.65 L298.02,229.39 L299.10,229.22 L300.35,229.14 L301.70,229.18 L303.05,229.33 L304.30,229.59 L305.38,229.95 L306.20,230.40 L306.72,230.90 L306.90,231.43 L306.72,231.97 L306.20,232.47 L305.38,232.91 L304.30,233.28 L303.05,233.54 L301.70,233.69 L300.35,233.73 L299.10,233.65 L298.02,233.47 L297.20,233.21 L296.68,232.90 L296.50,232.55 L296.68,232.20 L297.20,231.89 L298.02,231.63 L299.10,231.45 L300.35,231.37 L301.70,231.41 L303.05,231.56 L304.30,231.82 L305.38,232.19 L306.20,232.63 L306.72,233.13 L306.90,233.67 L306.72,234.20 L306.20,234.70 L305.38,235.15 L304.30,235.51 L303.05,235.77 L301.70,235.92 L300.35,235.96 L299.10,235.88 L298.02,235.71 L297.20,235.45 L296.68,235.13 L296.50,234.78 L296.68,234.44 L297.20,234.12 L298.02,233.86 L299.10,233.68 L300.35,233.61 L301.70,233.64 L303.05,233.79 L304.30,234.06 L305.38,234.42 L306.20,234.86 L306.72,235.37 L306.90,235.90 L306.72,236.43 L306.20,236.94 L305.38,237.38 L304.30,237.74 L303.05,238.01 L301.70,238.16 L300.35,238.19 L299.10,238.12 L298.02,237.94 L297.20,237.68 L296.68,237.36 L296.50,237.02 L296.68,236.67 L297.20,236.35 L298.02,236.09 L299.10,235.92 L300.35,235.84 L301.70,235.88 L303.05,236.03 L304.30,236.29 L305.38,236.65 L306.20,237.10 L306.72,237.60 L306.90,238.13 L306.72,238.67 L306.20,239.17 L305.38,239.61 L304.30,239.98 L303.05,240.24 L301.70,240.39 L300.35,240.43 L299.10,240.35 L298.02,240.17 L297.20,239.91 L296.68,239.60 L296.50,239.25 L296.68,238.90 L297.20,238.59 L298.02,238.33 L299.10,238.15 L300.35,238.07 L301.70,238.11 L303.05,238.26 L304.30,238.52 L305.38,238.89 L306.20,239.33 L306.72,239.83 L306.90,240.37 L306.72,240.90 L306.20,241.40 L305.38,241.85 L304.30,242.21 L303.05,242.47 L301.70,242.62 L300.35,242.66 L299.10,242.58 L298.02,242.41 L297.20,242.15 L296.68,241.83 L296.50,241.48 L296.68,241.14 L297.20,240.82 L298.02,240.56 L299.10,240.38 L300.35,240.31 L301.70,240.34 L303.05,240.49 L304.30,240.76 L305.38,241.12 L306.20,241.56 L306.72,242.07 L306.90,242.60 L306.72,243.13 L306.20,243.64 L305.38,244.08 L304.30,244.44 L303.05,244.71 L301.70,244.86 L300.35,244.89 L299.10,244.82 L298.02,244.64 L297.20,244.38 L296.68,244.06 L296.50,243.72 L296.68,243.37 L297.20,243.05 L298.02,242.79 L299.10,242.62 L300.35,242.54 L301.70,242.57 L303.05,242.73 L304.30,242.99 L305.38,243.35 L306.20,243.80 L306.72,244.30 L306.90,244.83 L306.72,245.37 L306.20,245.87 L305.38,246.31 L304.30,246.68 L303.05,246.94 L301.70,247.09 L300.35,247.13 L299.10,247.05 L298.02,246.87 L297.20,246.61 L296.68,246.30 L296.50,245.95 L296.68,245.60 L297.20,245.29 L298.02,245.03 L299.10,244.85 L300.35,244.77 L301.70,244.81 L303.05,244.96 L304.30,245.22 L305.38,245.59 L306.20,246.03 L306.72,246.53 L306.90,247.07 L306.72,247.60 L306.20,248.10 L305.38,248.55 L304.30,248.91 L303.05,249.17 L301.70,249.32 L300.35,249.36 L299.10,249.28 L298.02,249.11 L297.20,248.85 L296.68,248.53 L296.50,248.18 L296.68,247.84 L297.20,247.52 L298.02,247.26 L299.10,247.08 L300.35,247.01 L301.70,247.04 L303.05,247.19 L304.30,247.46 L305.38,247.82 L306.20,248.26 L306.72,248.77 L306.90,249.30" fill="none" stroke="#888" stroke-width="0.34" stroke-linejoin="round"/>
<path d="M295.3,257 L295.3,276 A6.4,1.8 0 0 0 308.1,276 L308.1,257 Z" fill="url(#cyl)" stroke="#262626" stroke-width="1.03"/><ellipse cx="301.7" cy="257" rx="6.4" ry="1.8" fill="#f4f4f4" stroke="#262626" stroke-width="1.03" />
<line x1="295.3" y1="263" x2="308.1" y2="263" stroke="#aaa" stroke-width="0.46" />
<path d="M306.50,355.30 L306.33,355.86 L305.83,356.39 L305.04,356.85 L304.00,357.23 L302.79,357.50 L301.50,357.66 L300.21,357.69 L299.00,357.60 L297.96,357.41 L297.17,357.13 L296.67,356.79 L296.50,356.42 L296.67,356.05 L297.17,355.71 L297.96,355.43 L299.00,355.23 L300.21,355.15 L301.50,355.18 L302.79,355.33 L304.00,355.61 L305.04,355.99 L305.83,356.45 L306.33,356.98 L306.50,357.54 L306.33,358.10 L305.83,358.62 L305.04,359.09 L304.00,359.47 L302.79,359.74 L301.50,359.90 L300.21,359.93 L299.00,359.84 L297.96,359.65 L297.17,359.37 L296.67,359.03 L296.50,358.66 L296.67,358.28 L297.17,357.94 L297.96,357.66 L299.00,357.47 L300.21,357.38 L301.50,357.42 L302.79,357.57 L304.00,357.84 L305.04,358.22 L305.83,358.69 L306.33,359.22 L306.50,359.78 L306.33,360.33 L305.83,360.86 L305.04,361.33 L304.00,361.71 L302.79,361.98 L301.50,362.13 L300.21,362.17 L299.00,362.08 L297.96,361.89 L297.17,361.61 L296.67,361.27 L296.50,360.89 L296.67,360.52 L297.17,360.18 L297.96,359.90 L299.00,359.71 L300.21,359.62 L301.50,359.65 L302.79,359.81 L304.00,360.08 L305.04,360.46 L305.83,360.93 L306.33,361.45 L306.50,362.01 L306.33,362.57 L305.83,363.10 L305.04,363.56 L304.00,363.94 L302.79,364.22 L301.50,364.37 L300.21,364.40 L299.00,364.32 L297.96,364.12 L297.17,363.84 L296.67,363.50 L296.50,363.13 L296.67,362.76 L297.17,362.42 L297.96,362.14 L299.00,361.95 L300.21,361.86 L301.50,361.89 L302.79,362.05 L304.00,362.32 L305.04,362.70 L305.83,363.16 L306.33,363.69 L306.50,364.25 L306.33,364.81 L305.83,365.34 L305.04,365.80 L304.00,366.18 L302.79,366.45 L301.50,366.61 L300.21,366.64 L299.00,366.55 L297.96,366.36 L297.17,366.08 L296.67,365.74 L296.50,365.37 L296.67,365.00 L297.17,364.66 L297.96,364.38 L299.00,364.18 L300.21,364.10 L301.50,364.13 L302.79,364.28 L304.00,364.56 L305.04,364.94 L305.83,365.40 L306.33,365.93 L306.50,366.49 L306.33,367.05 L305.83,367.57 L305.04,368.04 L304.00,368.42 L302.79,368.69 L301.50,368.85 L300.21,368.88 L299.00,368.79 L297.96,368.60 L297.17,368.32 L296.67,367.98 L296.50,367.61 L296.67,367.23 L297.17,366.89 L297.96,366.61 L299.00,366.42 L300.21,366.33 L301.50,366.37 L302.79,366.52 L304.00,366.79 L305.04,367.17 L305.83,367.64 L306.33,368.17 L306.50,368.73 L306.33,369.28 L305.83,369.81 L305.04,370.28 L304.00,370.66 L302.79,370.93 L301.50,371.08 L300.21,371.12 L299.00,371.03 L297.96,370.84 L297.17,370.56 L296.67,370.22 L296.50,369.84 L296.67,369.47 L297.17,369.13 L297.96,368.85 L299.00,368.66 L300.21,368.57 L301.50,368.60 L302.79,368.76 L304.00,369.03 L305.04,369.41 L305.83,369.88 L306.33,370.40 L306.50,370.96 L306.33,371.52 L305.83,372.05 L305.04,372.51 L304.00,372.89 L302.79,373.17 L301.50,373.32 L300.21,373.35 L299.00,373.27 L297.96,373.07 L297.17,372.79 L296.67,372.45 L296.50,372.08 L296.67,371.71 L297.17,371.37 L297.96,371.09 L299.00,370.90 L300.21,370.81 L301.50,370.84 L302.79,371.00 L304.00,371.27 L305.04,371.65 L305.83,372.11 L306.33,372.64 L306.50,373.20" fill="none" stroke="#333" stroke-width="1.49" stroke-linejoin="round"/>
<path d="M306.50,355.30 L306.33,355.86 L305.83,356.39 L305.04,356.85 L304.00,357.23 L302.79,357.50 L301.50,357.66 L300.21,357.69 L299.00,357.60 L297.96,357.41 L297.17,357.13 L296.67,356.79 L296.50,356.42 L296.67,356.05 L297.17,355.71 L297.96,355.43 L299.00,355.23 L300.21,355.15 L301.50,355.18 L302.79,355.33 L304.00,355.61 L305.04,355.99 L305.83,356.45 L306.33,356.98 L306.50,357.54 L306.33,358.10 L305.83,358.62 L305.04,359.09 L304.00,359.47 L302.79,359.74 L301.50,359.90 L300.21,359.93 L299.00,359.84 L297.96,359.65 L297.17,359.37 L296.67,359.03 L296.50,358.66 L296.67,358.28 L297.17,357.94 L297.96,357.66 L299.00,357.47 L300.21,357.38 L301.50,357.42 L302.79,357.57 L304.00,357.84 L305.04,358.22 L305.83,358.69 L306.33,359.22 L306.50,359.78 L306.33,360.33 L305.83,360.86 L305.04,361.33 L304.00,361.71 L302.79,361.98 L301.50,362.13 L300.21,362.17 L299.00,362.08 L297.96,361.89 L297.17,361.61 L296.67,361.27 L296.50,360.89 L296.67,360.52 L297.17,360.18 L297.96,359.90 L299.00,359.71 L300.21,359.62 L301.50,359.65 L302.79,359.81 L304.00,360.08 L305.04,360.46 L305.83,360.93 L306.33,361.45 L306.50,362.01 L306.33,362.57 L305.83,363.10 L305.04,363.56 L304.00,363.94 L302.79,364.22 L301.50,364.37 L300.21,364.40 L299.00,364.32 L297.96,364.12 L297.17,363.84 L296.67,363.50 L296.50,363.13 L296.67,362.76 L297.17,362.42 L297.96,362.14 L299.00,361.95 L300.21,361.86 L301.50,361.89 L302.79,362.05 L304.00,362.32 L305.04,362.70 L305.83,363.16 L306.33,363.69 L306.50,364.25 L306.33,364.81 L305.83,365.34 L305.04,365.80 L304.00,366.18 L302.79,366.45 L301.50,366.61 L300.21,366.64 L299.00,366.55 L297.96,366.36 L297.17,366.08 L296.67,365.74 L296.50,365.37 L296.67,365.00 L297.17,364.66 L297.96,364.38 L299.00,364.18 L300.21,364.10 L301.50,364.13 L302.79,364.28 L304.00,364.56 L305.04,364.94 L305.83,365.40 L306.33,365.93 L306.50,366.49 L306.33,367.05 L305.83,367.57 L305.04,368.04 L304.00,368.42 L302.79,368.69 L301.50,368.85 L300.21,368.88 L299.00,368.79 L297.96,368.60 L297.17,368.32 L296.67,367.98 L296.50,367.61 L296.67,367.23 L297.17,366.89 L297.96,366.61 L299.00,366.42 L300.21,366.33 L301.50,366.37 L302.79,366.52 L304.00,366.79 L305.04,367.17 L305.83,367.64 L306.33,368.17 L306.50,368.73 L306.33,369.28 L305.83,369.81 L305.04,370.28 L304.00,370.66 L302.79,370.93 L301.50,371.08 L300.21,371.12 L299.00,371.03 L297.96,370.84 L297.17,370.56 L296.67,370.22 L296.50,369.84 L296.67,369.47 L297.17,369.13 L297.96,368.85 L299.00,368.66 L300.21,368.57 L301.50,368.60 L302.79,368.76 L304.00,369.03 L305.04,369.41 L305.83,369.88 L306.33,370.40 L306.50,370.96 L306.33,371.52 L305.83,372.05 L305.04,372.51 L304.00,372.89 L302.79,373.17 L301.50,373.32 L300.21,373.35 L299.00,373.27 L297.96,373.07 L297.17,372.79 L296.67,372.45 L296.50,372.08 L296.67,371.71 L297.17,371.37 L297.96,371.09 L299.00,370.90 L300.21,370.81 L301.50,370.84 L302.79,371.00 L304.00,371.27 L305.04,371.65 L305.83,372.11 L306.33,372.64 L306.50,373.20" fill="none" stroke="#888" stroke-width="0.34" stroke-linejoin="round"/>
<path d="M295,374.5 L295,384 A6.5,1.8 0 0 0 308,384 L308,374.5 Z" fill="url(#cyl)" stroke="#262626" stroke-width="1.03"/><ellipse cx="301.5" cy="374.5" rx="6.5" ry="1.8" fill="#fff" stroke="#262626" stroke-width="1.03" />
<path d="M291.5,341 L291.5,351 Q301.5,353 311.5,351 L311.5,341 Q301.5,339 291.5,341 Z" fill="url(#cyl)" stroke="#262626" stroke-width="1.03" />
<line x1="296.5" y1="340" x2="296.5" y2="352" stroke="#262626" stroke-width="0.57" />
<line x1="306.5" y1="340" x2="306.5" y2="352" stroke="#262626" stroke-width="0.57" />
<line x1="291.5" y1="345" x2="311.5" y2="345" stroke="#262626" stroke-width="0.46" />
<path d="M291,321 L291,339 A10.5,2.3 0 0 0 312,339 L312,321 Z" fill="url(#cyl)" stroke="#262626" stroke-width="1.03"/><ellipse cx="301.5" cy="321" rx="10.5" ry="2.3" fill="#fff" stroke="#262626" stroke-width="1.03" />
<line x1="291" y1="327" x2="312" y2="327" stroke="#999" stroke-width="0.46" />
<path d="M289.0,312 L289.0,319 A12.5,3 0 0 0 314.0,319 L314.0,312 Z" fill="#f2f2f2" stroke="#262626" stroke-width="1.15" />
<line x1="289.33" y1="312.71" x2="289.33" y2="319.21" stroke="#262626" stroke-width="0.69" />
<line x1="289.58" y1="313.14" x2="289.58" y2="319.64" stroke="#262626" stroke-width="0.69" />
<line x1="290.07" y1="313.55" x2="290.07" y2="320.05" stroke="#262626" stroke-width="0.69" />
<line x1="290.79" y1="313.94" x2="290.79" y2="320.44" stroke="#262626" stroke-width="0.69" />
<line x1="291.73" y1="314.3" x2="291.73" y2="320.8" stroke="#262626" stroke-width="0.69" />
<line x1="292.87" y1="314.62" x2="292.87" y2="321.12" stroke="#262626" stroke-width="0.69" />
<line x1="294.19" y1="314.9" x2="294.19" y2="321.4" stroke="#262626" stroke-width="0.69" />
<line x1="295.65" y1="315.13" x2="295.65" y2="321.63" stroke="#262626" stroke-width="0.69" />
<line x1="297.24" y1="315.31" x2="297.24" y2="321.81" stroke="#262626" stroke-width="0.69" />
<line x1="298.91" y1="315.43" x2="298.91" y2="321.93" stroke="#262626" stroke-width="0.69" />
<line x1="300.63" y1="315.49" x2="300.63" y2="321.99" stroke="#262626" stroke-width="0.69" />
<line x1="302.37" y1="315.49" x2="302.37" y2="321.99" stroke="#262626" stroke-width="0.69" />
<line x1="304.09" y1="315.43" x2="304.09" y2="321.93" stroke="#262626" stroke-width="0.69" />
<line x1="305.76" y1="315.31" x2="305.76" y2="321.81" stroke="#262626" stroke-width="0.69" />
<line x1="307.35" y1="315.13" x2="307.35" y2="321.63" stroke="#262626" stroke-width="0.69" />
<line x1="308.81" y1="314.9" x2="308.81" y2="321.4" stroke="#262626" stroke-width="0.69" />
<line x1="310.13" y1="314.62" x2="310.13" y2="321.12" stroke="#262626" stroke-width="0.69" />
<line x1="311.27" y1="314.3" x2="311.27" y2="320.8" stroke="#262626" stroke-width="0.69" />
<line x1="312.21" y1="313.94" x2="312.21" y2="320.44" stroke="#262626" stroke-width="0.69" />
<line x1="312.93" y1="313.55" x2="312.93" y2="320.05" stroke="#262626" stroke-width="0.69" />
<line x1="313.42" y1="313.14" x2="313.42" y2="319.64" stroke="#262626" stroke-width="0.69" />
<line x1="313.67" y1="312.71" x2="313.67" y2="319.21" stroke="#262626" stroke-width="0.69" />
<ellipse cx="301.5" cy="312" rx="12.5" ry="3" fill="#fafafa" stroke="#262626" stroke-width="1.15" />
<ellipse cx="301.5" cy="311.5" rx="3" ry="1.1" fill="#666" stroke="#262626" stroke-width="0.57" />
<path d="M521,271.5 L534,269.5 L549,268 A7.5,23.5 0 0 1 549,315 L534,316.5 L523,318 Z" fill="#f1f1f1" stroke="#262626" stroke-width="1.26" />
<path d="M549,268 A7.5,23.5 0 0 0 549,315" fill="none" stroke="#555" stroke-width="0.69" />
<path d="M534,269.5 A7.2,23.5 0 0 1 534,316.5" fill="none" stroke="#262626" stroke-width="1.09" />
<path d="M540,269 L540,277.5 M540,308.5 L540,316" fill="none" stroke="#262626" stroke-width="0.69" />
<path d="M540,277.5 L552.5,276 M540,308.5 L552.5,307" fill="none" stroke="#262626" stroke-width="0.86" />
<path d="M529,272 A7,22 0 0 1 529,316" fill="none" stroke="#777" stroke-width="0.57" />
<path d="M526,273 A6.5,21.5 0 0 1 526,317" fill="none" stroke="#999" stroke-width="0.52" />
<path d="M469,248 L469,300 L514,300 L514,248 Z" fill="#fcfcfc" stroke="#262626" stroke-width="1.21" />
<path d="M469,285 L470,300 L478,325 L484,337 L500,336 L540,327 L539,319 L533,316 L523,318 L521,300 L521,283 L514,283 Z" fill="#f9f9f9" stroke="#262626" stroke-width="1.03" />
<path d="M470,288 Q495,298 503,318" fill="none" stroke="#666" stroke-width="0.63" />
<path d="M474,300 Q492,307 496,322" fill="none" stroke="#999" stroke-width="0.52" />
<path d="M513.5,289 L513.5,318" fill="none" stroke="#666" stroke-width="0.57" />
<path d="M488,318 Q493,333 486,337" fill="none" stroke="#888" stroke-width="0.52" />
<path d="M469,253 A22.5,5.6 0 0 0 514,253" fill="none" stroke="#262626" stroke-width="0.92" />
<path d="M469,258.5 A22.5,5.6 0 0 0 514,258.5" fill="none" stroke="#262626" stroke-width="1.03" />
<path d="M469,264 A22.5,5.6 0 0 0 514,264" fill="none" stroke="#555" stroke-width="0.69" />
<ellipse cx="491.5" cy="248" rx="22.5" ry="5.6" fill="#fdfdfd" stroke="#262626" stroke-width="1.26" />
<ellipse cx="491.5" cy="248.2" rx="19.2" ry="4" fill="#fff" stroke="#262626" stroke-width="1.61" />
<ellipse cx="506" cy="286" rx="5.5" ry="5" fill="#f4f4f4" stroke="#888" stroke-width="0.69" />
<ellipse cx="508" cy="286.5" rx="2.6" ry="2.4" fill="#fff" stroke="#262626" stroke-width="1.03" />
<path d="M514,273 L514,284 Q520,288 527,284 L527,273 Z" fill="#f3f3f3" stroke="#262626" stroke-width="0.92" />
<ellipse cx="520.5" cy="273" rx="6.5" ry="2.3" fill="#333" stroke="#262626" stroke-width="0.8" />
<line x1="516" y1="275" x2="516" y2="284" stroke="#777" stroke-width="0.46" />
<path d="M513,293 L530,299 A3,3.2 0 0 1 529,305 L513,300 Z" fill="#f4f4f4" stroke="#262626" stroke-width="0.98" />
<ellipse cx="530" cy="302" rx="2.8" ry="3" fill="#fff" stroke="#262626" stroke-width="1.03" />
<ellipse cx="530" cy="302" rx="1.3" ry="1.4" fill="#555" stroke="#262626" stroke-width="0.34" />
<g transform="translate(0,0)">
<path d="M478,336 L498,333 L536,323 L546,326 L546,339.5 L498,349 L485,348 L478,343 Z" fill="#e6e6e6" stroke="#262626" stroke-width="1.15" />
<path d="M498,333 L498,349" fill="none" stroke="#262626" stroke-width="0.86" />
<path d="M498,337.5 L546,328.5" fill="none" stroke="#262626" stroke-width="0.69" />
<path d="M499,344 L545,334.5" fill="none" stroke="#888" stroke-width="0.57" />
<path d="M539,319 L540,327" fill="none" stroke="#262626" stroke-width="0.69" />
<path d="M502.5,329.5 L532,324 L533,332 L503,337.5 Z" fill="#e6e6e6" stroke="#111" stroke-width="1.72" />
<text transform="translate(504.8,336.2) rotate(-10.5)" font-family="Liberation Sans" font-weight="bold" font-size="7.6" fill="#000" textLength="26.5" lengthAdjust="spacingAndGlyphs">PHDG 19</text>
<path d="M456,344 L464.5,345 L464.5,356 Q464,360 460,359.5 L456,359 Z" fill="#f3f3f3" stroke="#262626" stroke-width="1.09" />
<path d="M458,347 L458,357" fill="none" stroke="#777" stroke-width="0.46" />
<ellipse cx="460.5" cy="355" rx="1.4" ry="1.4" fill="#fff" stroke="#262626" stroke-width="0.86" />
<path d="M478,347 L487,348 L487,363 Q486,367 482,366 L479,365 Z" fill="#f3f3f3" stroke="#262626" stroke-width="1.09" />
<path d="M474,342 L478,347 L479,365" fill="none" stroke="#262626" stroke-width="0.69" />
<ellipse cx="484.5" cy="361.5" rx="1.4" ry="1.4" fill="#fff" stroke="#262626" stroke-width="0.86" />
<path d="M487,348 L499,349 L499,357 Q493,358.5 487,357 Z" fill="#f5f5f5" stroke="#262626" stroke-width="0.98" />
<path d="M499,346.5 L510,344.5 L510,355 Q505,358 499,357 Z" fill="#f5f5f5" stroke="#262626" stroke-width="0.98" />
<line x1="504.5" y1="345.5" x2="504.5" y2="356.5" stroke="#666" stroke-width="0.52" />
</g>
<g transform="translate(0,0)">
<ellipse cx="462" cy="307.5" rx="23.5" ry="35" transform="rotate(-5 462 307.5)" fill="#f7f7f7" stroke="#262626" stroke-width="1.1"/>
<path d="M447,274.5 L458,272.5 L468,342.5 L456,345 Z" fill="#f7f7f7" stroke="none" stroke-width="0" />
<ellipse cx="451" cy="309.5" rx="24" ry="35" transform="rotate(-5 451 309.5)" fill="#fdfdfd" stroke="#262626" stroke-width="1.7"/>
<ellipse cx="451" cy="309.5" rx="22" ry="32.8" transform="rotate(-5 451 309.5)" fill="none" stroke="#333" stroke-width="0.8"/>
<path d="M455,276 Q470,274 484,300" fill="none" stroke="#555" stroke-width="0.5"/>
<path d="M463,290 Q477,303 470,331" fill="none" stroke="#444" stroke-width="0.7"/>
<path d="M461,294 Q472,306 466,328" fill="none" stroke="#999" stroke-width="0.5"/>
<ellipse cx="441" cy="300" rx="6.8" ry="3.6" transform="rotate(8 441 300)" fill="#fff" stroke="#262626" stroke-width="1"/>
<ellipse cx="443.5" cy="328.5" rx="3.6" ry="2.6" transform="rotate(-30 443.5 328.5)" fill="#fff" stroke="#262626" stroke-width="0.85"/>
<ellipse cx="451.5" cy="329.5" rx="4.6" ry="3.1" transform="rotate(-30 451.5 329.5)" fill="#fff" stroke="#262626" stroke-width="0.85"/>
</g>
<g transform="translate(0,0)">
<ellipse cx="499" cy="315" rx="7.5" ry="7" fill="none" stroke="#888" stroke-width="0.57" />
<path d="M495,312 L507,306.5 A3.8,4.6 0 0 1 510.5,314.5 L499,320 Z" fill="#f2f2f2" stroke="#262626" stroke-width="1.09" />
<line x1="501" y1="309.5" x2="503" y2="317.8" stroke="#555" stroke-width="0.52" />
<line x1="503.8" y1="308.24" x2="505.8" y2="316.54" stroke="#555" stroke-width="0.52" />
<line x1="506.6" y1="306.98" x2="508.6" y2="315.28" stroke="#555" stroke-width="0.52" />
<ellipse cx="497.5" cy="315.5" rx="3.6" ry="4.4" transform="rotate(-25 497.5 315.5)" fill="#222" stroke="#262626" stroke-width="0.8"/>
<ellipse cx="498" cy="315.3" rx="2.2" ry="3" transform="rotate(-25 498 315.3)" fill="#eee" stroke="none"/>
<ellipse cx="507.5" cy="310.5" rx="3.6" ry="4.2" fill="#fff" stroke="#262626" stroke-width="1.03" />
<ellipse cx="515.0" cy="313.0" rx="3.9" ry="4.6" fill="#fafafa" stroke="#262626" stroke-width="1.05"/>
<ellipse cx="515.0" cy="313.0" rx="2.6" ry="3.3" fill="none" stroke="#262626" stroke-width="0.7"/>
</g>
<g transform="translate(-131.3,149.4)"><path d="M521,271.5 L534,269.5 L549,268 A7.5,23.5 0 0 1 549,315 L534,316.5 L523,318 Z" fill="#f1f1f1" stroke="#262626" stroke-width="1.26" />
<path d="M549,268 A7.5,23.5 0 0 0 549,315" fill="none" stroke="#555" stroke-width="0.69" />
<path d="M534,269.5 A7.2,23.5 0 0 1 534,316.5" fill="none" stroke="#262626" stroke-width="1.09" />
<path d="M540,269 L540,277.5 M540,308.5 L540,316" fill="none" stroke="#262626" stroke-width="0.69" />
<path d="M540,277.5 L552.5,276 M540,308.5 L552.5,307" fill="none" stroke="#262626" stroke-width="0.86" />
<path d="M529,272 A7,22 0 0 1 529,316" fill="none" stroke="#777" stroke-width="0.57" />
<path d="M526,273 A6.5,21.5 0 0 1 526,317" fill="none" stroke="#999" stroke-width="0.52" />
<path d="M469,248 L469,300 L514,300 L514,248 Z" fill="#fcfcfc" stroke="#262626" stroke-width="1.21" />
<path d="M469,285 L470,300 L478,325 L484,337 L500,336 L540,327 L539,319 L533,316 L523,318 L521,300 L521,283 L514,283 Z" fill="#f9f9f9" stroke="#262626" stroke-width="1.03" />
<path d="M470,288 Q495,298 503,318" fill="none" stroke="#666" stroke-width="0.63" />
<path d="M474,300 Q492,307 496,322" fill="none" stroke="#999" stroke-width="0.52" />
<path d="M513.5,289 L513.5,318" fill="none" stroke="#666" stroke-width="0.57" />
<path d="M488,318 Q493,333 486,337" fill="none" stroke="#888" stroke-width="0.52" />
<path d="M469,253 A22.5,5.6 0 0 0 514,253" fill="none" stroke="#262626" stroke-width="0.92" />
<path d="M469,258.5 A22.5,5.6 0 0 0 514,258.5" fill="none" stroke="#262626" stroke-width="1.03" />
<path d="M469,264 A22.5,5.6 0 0 0 514,264" fill="none" stroke="#555" stroke-width="0.69" />
<ellipse cx="491.5" cy="248" rx="22.5" ry="5.6" fill="#fdfdfd" stroke="#262626" stroke-width="1.26" />
<ellipse cx="491.5" cy="248.2" rx="19.2" ry="4" fill="#fff" stroke="#262626" stroke-width="1.61" />
<ellipse cx="506" cy="286" rx="5.5" ry="5" fill="#f4f4f4" stroke="#888" stroke-width="0.69" />
<ellipse cx="508" cy="286.5" rx="2.6" ry="2.4" fill="#fff" stroke="#262626" stroke-width="1.03" />
<path d="M514,273 L514,284 Q520,288 527,284 L527,273 Z" fill="#f3f3f3" stroke="#262626" stroke-width="0.92" />
<ellipse cx="520.5" cy="273" rx="6.5" ry="2.3" fill="#333" stroke="#262626" stroke-width="0.8" />
<line x1="516" y1="275" x2="516" y2="284" stroke="#777" stroke-width="0.46" />
<path d="M513,293 L530,299 A3,3.2 0 0 1 529,305 L513,300 Z" fill="#f4f4f4" stroke="#262626" stroke-width="0.98" />
<ellipse cx="530" cy="302" rx="2.8" ry="3" fill="#fff" stroke="#262626" stroke-width="1.03" />
<ellipse cx="530" cy="302" rx="1.3" ry="1.4" fill="#555" stroke="#262626" stroke-width="0.34" />
<g transform="translate(0,3)">
<path d="M478,336 L498,333 L536,323 L546,326 L546,339.5 L498,349 L485,348 L478,343 Z" fill="#e6e6e6" stroke="#262626" stroke-width="1.15" />
<path d="M498,333 L498,349" fill="none" stroke="#262626" stroke-width="0.86" />
<path d="M498,337.5 L546,328.5" fill="none" stroke="#262626" stroke-width="0.69" />
<path d="M499,344 L545,334.5" fill="none" stroke="#888" stroke-width="0.57" />
<path d="M539,319 L540,327" fill="none" stroke="#262626" stroke-width="0.69" />
<path d="M502.5,329.5 L532,324 L533,332 L503,337.5 Z" fill="#e6e6e6" stroke="#111" stroke-width="1.72" />
<text transform="translate(504.8,336.2) rotate(-10.5)" font-family="Liberation Sans" font-weight="bold" font-size="7.6" fill="#000" textLength="26.5" lengthAdjust="spacingAndGlyphs">PHDG 24</text>
<path d="M456,344 L464.5,345 L464.5,356 Q464,360 460,359.5 L456,359 Z" fill="#f3f3f3" stroke="#262626" stroke-width="1.09" />
<path d="M458,347 L458,357" fill="none" stroke="#777" stroke-width="0.46" />
<ellipse cx="460.5" cy="355" rx="1.4" ry="1.4" fill="#fff" stroke="#262626" stroke-width="0.86" />
<path d="M478,347 L487,348 L487,363 Q486,367 482,366 L479,365 Z" fill="#f3f3f3" stroke="#262626" stroke-width="1.09" />
<path d="M474,342 L478,347 L479,365" fill="none" stroke="#262626" stroke-width="0.69" />
<ellipse cx="484.5" cy="361.5" rx="1.4" ry="1.4" fill="#fff" stroke="#262626" stroke-width="0.86" />
<path d="M487,348 L499,349 L499,357 Q493,358.5 487,357 Z" fill="#f5f5f5" stroke="#262626" stroke-width="0.98" />
<path d="M499,346.5 L510,344.5 L510,355 Q505,358 499,357 Z" fill="#f5f5f5" stroke="#262626" stroke-width="0.98" />
<line x1="504.5" y1="345.5" x2="504.5" y2="356.5" stroke="#666" stroke-width="0.52" />
</g>
<g transform="translate(0,2.5)">
<ellipse cx="462" cy="307.5" rx="23.5" ry="35" transform="rotate(-5 462 307.5)" fill="#f7f7f7" stroke="#262626" stroke-width="1.1"/>
<path d="M447,274.5 L458,272.5 L468,342.5 L456,345 Z" fill="#f7f7f7" stroke="none" stroke-width="0" />
<ellipse cx="451" cy="309.5" rx="24" ry="35" transform="rotate(-5 451 309.5)" fill="#fdfdfd" stroke="#262626" stroke-width="1.7"/>
<ellipse cx="451" cy="309.5" rx="22" ry="32.8" transform="rotate(-5 451 309.5)" fill="none" stroke="#333" stroke-width="0.8"/>
<path d="M455,276 Q470,274 484,300" fill="none" stroke="#555" stroke-width="0.5"/>
<path d="M463,290 Q477,303 470,331" fill="none" stroke="#444" stroke-width="0.7"/>
<path d="M461,294 Q472,306 466,328" fill="none" stroke="#999" stroke-width="0.5"/>
<ellipse cx="441" cy="300" rx="6.8" ry="3.6" transform="rotate(8 441 300)" fill="#fff" stroke="#262626" stroke-width="1"/>
<ellipse cx="448.3" cy="327.5" rx="4.2" ry="3" transform="rotate(-55 448.3 327.5)" fill="#fff" stroke="#262626" stroke-width="0.85"/>
<ellipse cx="453.5" cy="333" rx="5" ry="3.2" transform="rotate(-55 453.5 333)" fill="#fff" stroke="#262626" stroke-width="0.85"/>
</g>
<g transform="translate(0,3.5)">
<ellipse cx="499" cy="315" rx="7.5" ry="7" fill="none" stroke="#888" stroke-width="0.57" />
<path d="M495,312 L507,306.5 A3.8,4.6 0 0 1 510.5,314.5 L499,320 Z" fill="#f2f2f2" stroke="#262626" stroke-width="1.09" />
<line x1="501" y1="309.5" x2="503" y2="317.8" stroke="#555" stroke-width="0.52" />
<line x1="503.8" y1="308.24" x2="505.8" y2="316.54" stroke="#555" stroke-width="0.52" />
<line x1="506.6" y1="306.98" x2="508.6" y2="315.28" stroke="#555" stroke-width="0.52" />
<ellipse cx="497.5" cy="315.5" rx="3.6" ry="4.4" transform="rotate(-25 497.5 315.5)" fill="#222" stroke="#262626" stroke-width="0.8"/>
<ellipse cx="498" cy="315.3" rx="2.2" ry="3" transform="rotate(-25 498 315.3)" fill="#eee" stroke="none"/>
<ellipse cx="507.5" cy="310.5" rx="3.6" ry="4.2" fill="#fff" stroke="#262626" stroke-width="1.03" />
<ellipse cx="516.8" cy="314.8" rx="6.24" ry="7.359999999999999" fill="#fafafa" stroke="#262626" stroke-width="1.05"/>
<ellipse cx="516.8" cy="314.8" rx="4.16" ry="5.28" fill="none" stroke="#262626" stroke-width="0.7"/>
</g>
<path d="M518.5,259 L518.5,276 Q522.5,278 526.5,276 L526.5,259 Z" fill="url(#cyl)" stroke="#262626" stroke-width="0.98" />
<ellipse cx="522.5" cy="259" rx="4" ry="1.4" fill="#fff" stroke="#262626" stroke-width="0.98" />
<line x1="518.5" y1="264" x2="526.5" y2="264" stroke="#262626" stroke-width="0.63" /></g>
<g transform="translate(237,373) rotate(29)"><path d="M9,-2.8 L21,-2.3 L26,0 L21,2.3 L9,2.8 Z" fill="url(#cylv)" stroke="#262626" stroke-width="1.09" /><line x1="21" y1="-2.3" x2="21" y2="2.3" stroke="#262626" stroke-width="0.57" /><path d="M3,-5 L10,-3.8 L10,3.8 L3,5 Z" fill="#eee" stroke="#262626" stroke-width="1.03" /><ellipse cx="3" cy="0" rx="3.6" ry="5.8" fill="#e8e8e8" stroke="#262626" stroke-width="1.15" /><ellipse cx="2.6" cy="0" rx="1.8" ry="3.4" fill="#888" stroke="#262626" stroke-width="0.57" /></g>
<g transform="translate(263,390) rotate(28)"><path d="M2.79,6.00 L3.59,5.80 L4.35,5.20 L5.01,4.24 L5.54,3.00 L5.90,1.55 L6.08,0.00 L6.06,-1.55 L5.87,-3.00 L5.51,-4.24 L5.01,-5.20 L4.42,-5.80 L3.78,-6.00 L3.14,-5.80 L2.55,-5.20 L2.06,-4.24 L1.70,-3.00 L1.50,-1.55 L1.49,-0.00 L1.67,1.55 L2.03,3.00 L2.55,4.24 L3.21,5.20 L3.97,5.80 L4.77,6.00 L5.58,5.80 L6.33,5.20 L6.99,4.24 L7.52,3.00 L7.88,1.55 L8.06,0.00 L8.05,-1.55 L7.85,-3.00 L7.49,-4.24 L7.00,-5.20 L6.41,-5.80 L5.77,-6.00 L5.13,-5.80 L4.54,-5.20 L4.04,-4.24 L3.68,-3.00 L3.48,-1.55 L3.47,-0.00 L3.65,1.55 L4.01,3.00 L4.54,4.24 L5.20,5.20 L5.95,5.80 L6.76,6.00 L7.56,5.80 L8.32,5.20 L8.98,4.24 L9.50,3.00 L9.87,1.55 L10.04,0.00 L10.03,-1.55 L9.84,-3.00 L9.47,-4.24 L8.98,-5.20 L8.39,-5.80 L7.75,-6.00 L7.11,-5.80 L6.52,-5.20 L6.03,-4.24 L5.66,-3.00 L5.47,-1.55 L5.46,-0.00 L5.63,1.55 L6.00,3.00 L6.52,4.24 L7.18,5.20 L7.94,5.80 L8.74,6.00 L9.55,5.80 L10.30,5.20 L10.96,4.24 L11.49,3.00 L11.85,1.55 L12.03,-0.00 L12.02,-1.55 L11.82,-3.00 L11.46,-4.24 L10.96,-5.20 L10.37,-5.80 L9.73,-6.00 L9.09,-5.80 L8.50,-5.20 L8.01,-4.24 L7.65,-3.00 L7.45,-1.55 L7.44,-0.00 L7.62,1.55 L7.98,3.00 L8.51,4.24 L9.17,5.20 L9.92,5.80 L10.73,6.00 L11.53,5.80 L12.29,5.20 L12.95,4.24 L13.47,3.00 L13.83,1.55 L14.01,-0.00 L14.00,-1.55 L13.80,-3.00 L13.44,-4.24 L12.95,-5.20 L12.36,-5.80 L11.72,-6.00 L11.08,-5.80 L10.49,-5.20 L9.99,-4.24 L9.63,-3.00 L9.44,-1.55 L9.42,-0.00 L9.60,1.55 L9.96,3.00 L10.49,4.24 L11.15,5.20 L11.91,5.80 L12.71,6.00" fill="none" stroke="#222" stroke-width="2.25" stroke-linejoin="round"/><path d="M2.79,6.00 L3.59,5.80 L4.35,5.20 L5.01,4.24 L5.54,3.00 L5.90,1.55 L6.08,0.00 L6.06,-1.55 L5.87,-3.00 L5.51,-4.24 L5.01,-5.20 L4.42,-5.80 L3.78,-6.00 L3.14,-5.80 L2.55,-5.20 L2.06,-4.24 L1.70,-3.00 L1.50,-1.55 L1.49,-0.00 L1.67,1.55 L2.03,3.00 L2.55,4.24 L3.21,5.20 L3.97,5.80 L4.77,6.00 L5.58,5.80 L6.33,5.20 L6.99,4.24 L7.52,3.00 L7.88,1.55 L8.06,0.00 L8.05,-1.55 L7.85,-3.00 L7.49,-4.24 L7.00,-5.20 L6.41,-5.80 L5.77,-6.00 L5.13,-5.80 L4.54,-5.20 L4.04,-4.24 L3.68,-3.00 L3.48,-1.55 L3.47,-0.00 L3.65,1.55 L4.01,3.00 L4.54,4.24 L5.20,5.20 L5.95,5.80 L6.76,6.00 L7.56,5.80 L8.32,5.20 L8.98,4.24 L9.50,3.00 L9.87,1.55 L10.04,0.00 L10.03,-1.55 L9.84,-3.00 L9.47,-4.24 L8.98,-5.20 L8.39,-5.80 L7.75,-6.00 L7.11,-5.80 L6.52,-5.20 L6.03,-4.24 L5.66,-3.00 L5.47,-1.55 L5.46,-0.00 L5.63,1.55 L6.00,3.00 L6.52,4.24 L7.18,5.20 L7.94,5.80 L8.74,6.00 L9.55,5.80 L10.30,5.20 L10.96,4.24 L11.49,3.00 L11.85,1.55 L12.03,-0.00 L12.02,-1.55 L11.82,-3.00 L11.46,-4.24 L10.96,-5.20 L10.37,-5.80 L9.73,-6.00 L9.09,-5.80 L8.50,-5.20 L8.01,-4.24 L7.65,-3.00 L7.45,-1.55 L7.44,-0.00 L7.62,1.55 L7.98,3.00 L8.51,4.24 L9.17,5.20 L9.92,5.80 L10.73,6.00 L11.53,5.80 L12.29,5.20 L12.95,4.24 L13.47,3.00 L13.83,1.55 L14.01,-0.00 L14.00,-1.55 L13.80,-3.00 L13.44,-4.24 L12.95,-5.20 L12.36,-5.80 L11.72,-6.00 L11.08,-5.80 L10.49,-5.20 L9.99,-4.24 L9.63,-3.00 L9.44,-1.55 L9.42,-0.00 L9.60,1.55 L9.96,3.00 L10.49,4.24 L11.15,5.20 L11.91,5.80 L12.71,6.00" fill="none" stroke="#999" stroke-width="0.99" stroke-linejoin="round"/></g>
<ellipse cx="282.5" cy="403.5" rx="3.3" ry="3.9" transform="rotate(-30 282.5 403.5)" fill="#f3f3f3" stroke="#262626" stroke-width="1"/>
<ellipse cx="282.5" cy="403.5" rx="1.4" ry="1.8" transform="rotate(-30 282.5 403.5)" fill="#fff" stroke="#262626" stroke-width="0.6"/>
<ellipse cx="291" cy="409.5" rx="3" ry="3.8" transform="rotate(-30 291 409.5)" fill="#f3f3f3" stroke="#262626" stroke-width="0.9"/>
<ellipse cx="291" cy="409.5" rx="1.2" ry="1.6" transform="rotate(-30 291 409.5)" fill="#fff" stroke="#262626" stroke-width="0.6"/>
<g transform="translate(237.5,429) rotate(16)"><path d="M7,-3 L26,-2.6 L30,-2 L30,2 L26,2.6 L7,3 Z" fill="url(#cylv)" stroke="#262626" stroke-width="0.98" /><path d="M30,-1.7 L35,-1.2 L37,0 L35,1.2 L30,1.7 Z" fill="#f4f4f4" stroke="#262626" stroke-width="0.8" /><line x1="33" y1="-1.4" x2="33" y2="1.4" stroke="#262626" stroke-width="0.46" /><path d="M0,-6.3 L6,-6 L8,-3.5 L8,3.5 L6,6 L0,6.3 Z" fill="#333" stroke="#262626" stroke-width="0.92" /><ellipse cx="0.2" cy="0" rx="2.8" ry="6.3" fill="#222" stroke="#262626" stroke-width="1.03" /><ellipse cx="0.2" cy="0" rx="1.6" ry="4" fill="#666" stroke="#262626" stroke-width="0.46" /></g>
<g transform="translate(274,437) rotate(22)"><path d="M2.97,6.50 L3.83,6.28 L4.63,5.63 L5.33,4.60 L5.89,3.25 L6.28,1.68 L6.47,0.00 L6.45,-1.68 L6.25,-3.25 L5.86,-4.60 L5.33,-5.63 L4.71,-6.28 L4.03,-6.50 L3.35,-6.28 L2.72,-5.63 L2.19,-4.60 L1.81,-3.25 L1.60,-1.68 L1.58,-0.00 L1.77,1.68 L2.16,3.25 L2.72,4.60 L3.42,5.63 L4.23,6.28 L5.08,6.50 L5.94,6.28 L6.74,5.63 L7.45,4.60 L8.01,3.25 L8.39,1.68 L8.58,0.00 L8.57,-1.68 L8.36,-3.25 L7.97,-4.60 L7.45,-5.63 L6.82,-6.28 L6.14,-6.50 L5.46,-6.28 L4.83,-5.63 L4.30,-4.60 L3.92,-3.25 L3.71,-1.68 L3.70,-0.00 L3.89,1.68 L4.27,3.25 L4.83,4.60 L5.53,5.63 L6.34,6.28 L7.19,6.50 L8.05,6.28 L8.86,5.63 L9.56,4.60 L10.12,3.25 L10.50,1.68 L10.69,0.00 L10.68,-1.68 L10.47,-3.25 L10.09,-4.60 L9.56,-5.63 L8.93,-6.28 L8.25,-6.50 L7.57,-6.28 L6.94,-5.63 L6.41,-4.60 L6.03,-3.25 L5.82,-1.68 L5.81,-0.00 L6.00,1.68 L6.38,3.25 L6.94,4.60 L7.64,5.63 L8.45,6.28 L9.31,6.50 L10.16,6.28 L10.97,5.63 L11.67,4.60 L12.23,3.25 L12.61,1.68 L12.80,-0.00 L12.79,-1.68 L12.58,-3.25 L12.20,-4.60 L11.67,-5.63 L11.04,-6.28 L10.36,-6.50 L9.68,-6.28 L9.05,-5.63 L8.53,-4.60 L8.14,-3.25 L7.93,-1.68 L7.92,-0.00 L8.11,1.68 L8.49,3.25 L9.05,4.60 L9.76,5.63 L10.56,6.28 L11.42,6.50 L12.27,6.28 L13.08,5.63 L13.78,4.60 L14.34,3.25 L14.73,1.68 L14.92,-0.00 L14.90,-1.68 L14.69,-3.25 L14.31,-4.60 L13.78,-5.63 L13.15,-6.28 L12.47,-6.50 L11.79,-6.28 L11.17,-5.63 L10.64,-4.60 L10.25,-3.25 L10.05,-1.68 L10.03,-0.00 L10.22,1.68 L10.61,3.25 L11.17,4.60 L11.87,5.63 L12.67,6.28 L13.53,6.50" fill="none" stroke="#222" stroke-width="2.33" stroke-linejoin="round"/><path d="M2.97,6.50 L3.83,6.28 L4.63,5.63 L5.33,4.60 L5.89,3.25 L6.28,1.68 L6.47,0.00 L6.45,-1.68 L6.25,-3.25 L5.86,-4.60 L5.33,-5.63 L4.71,-6.28 L4.03,-6.50 L3.35,-6.28 L2.72,-5.63 L2.19,-4.60 L1.81,-3.25 L1.60,-1.68 L1.58,-0.00 L1.77,1.68 L2.16,3.25 L2.72,4.60 L3.42,5.63 L4.23,6.28 L5.08,6.50 L5.94,6.28 L6.74,5.63 L7.45,4.60 L8.01,3.25 L8.39,1.68 L8.58,0.00 L8.57,-1.68 L8.36,-3.25 L7.97,-4.60 L7.45,-5.63 L6.82,-6.28 L6.14,-6.50 L5.46,-6.28 L4.83,-5.63 L4.30,-4.60 L3.92,-3.25 L3.71,-1.68 L3.70,-0.00 L3.89,1.68 L4.27,3.25 L4.83,4.60 L5.53,5.63 L6.34,6.28 L7.19,6.50 L8.05,6.28 L8.86,5.63 L9.56,4.60 L10.12,3.25 L10.50,1.68 L10.69,0.00 L10.68,-1.68 L10.47,-3.25 L10.09,-4.60 L9.56,-5.63 L8.93,-6.28 L8.25,-6.50 L7.57,-6.28 L6.94,-5.63 L6.41,-4.60 L6.03,-3.25 L5.82,-1.68 L5.81,-0.00 L6.00,1.68 L6.38,3.25 L6.94,4.60 L7.64,5.63 L8.45,6.28 L9.31,6.50 L10.16,6.28 L10.97,5.63 L11.67,4.60 L12.23,3.25 L12.61,1.68 L12.80,-0.00 L12.79,-1.68 L12.58,-3.25 L12.20,-4.60 L11.67,-5.63 L11.04,-6.28 L10.36,-6.50 L9.68,-6.28 L9.05,-5.63 L8.53,-4.60 L8.14,-3.25 L7.93,-1.68 L7.92,-0.00 L8.11,1.68 L8.49,3.25 L9.05,4.60 L9.76,5.63 L10.56,6.28 L11.42,6.50 L12.27,6.28 L13.08,5.63 L13.78,4.60 L14.34,3.25 L14.73,1.68 L14.92,-0.00 L14.90,-1.68 L14.69,-3.25 L14.31,-4.60 L13.78,-5.63 L13.15,-6.28 L12.47,-6.50 L11.79,-6.28 L11.17,-5.63 L10.64,-4.60 L10.25,-3.25 L10.05,-1.68 L10.03,-0.00 L10.22,1.68 L10.61,3.25 L11.17,4.60 L11.87,5.63 L12.67,6.28 L13.53,6.50" fill="none" stroke="#999" stroke-width="1.06" stroke-linejoin="round"/></g>
<g transform="translate(216.5,420) rotate(-10)"><path d="M-24,-11 L0,-12 A8.5,12 0 0 1 0,12 L-24,11 Z" fill="#f4f4f4" stroke="#262626" stroke-width="1.03" /><path d="M-24,-9 L-16,-9 L-16,-7.2 L-24,-7.2" fill="#fff" stroke="#262626" stroke-width="0.8" /><path d="M-24,-6 L-16,-6 L-16,-4.2 L-24,-4.2" fill="#fff" stroke="#262626" stroke-width="0.8" /><path d="M-24,-3 L-16,-3 L-16,-1.2 L-24,-1.2" fill="#fff" stroke="#262626" stroke-width="0.8" /><path d="M-24,0 L-16,0 L-16,1.8 L-24,1.8" fill="#fff" stroke="#262626" stroke-width="0.8" /><path d="M-24,3 L-16,3 L-16,4.8 L-24,4.8" fill="#fff" stroke="#262626" stroke-width="0.8" /><path d="M-24,6 L-16,6 L-16,7.8 L-24,7.8" fill="#fff" stroke="#262626" stroke-width="0.8" /><path d="M-24,9 L-16,9 L-16,10.8 L-24,10.8" fill="#fff" stroke="#262626" stroke-width="0.8" /><path d="M-16,-11.5 L-16,11.5" fill="none" stroke="#262626" stroke-width="0.8" /><ellipse cx="0" cy="0" rx="8.5" ry="12" fill="#f6f6f6" stroke="#262626" stroke-width="1.15" /><ellipse cx="0" cy="0" rx="5.8" ry="8.5" fill="#fff" stroke="#262626" stroke-width="1.15" /><ellipse cx="0.5" cy="0" rx="4.3" ry="7" fill="none" stroke="#777" stroke-width="0.57" /></g>
<path d="M169,398 L179,402 L186,404 L189,406 L189,412 L186,419 L176,424 L166,421 L160,414 L161,404 Z" fill="#f4f4f4" stroke="#262626" stroke-width="1.03" /><path d="M162.5,399 L162,390 Q163,388 166,388.5 L174,390 Q176,391 175.5,393 L174,401 Z" fill="#f5f5f5" stroke="#262626" stroke-width="1.03" /><path d="M160,408 L150.5,408.5 Q149,409 149,411 L149.5,415 Q150,416.5 152,416.5 L160.5,416 Z" fill="#f5f5f5" stroke="#262626" stroke-width="1.03" /><path d="M165,421 L165,427.5 Q165.5,429 167.5,429 L175,428.5 Q177,428 176.5,426 L175,420 Z" fill="#f5f5f5" stroke="#262626" stroke-width="1.03" /><path d="M186,403 L189.5,403.5 Q190,404 190,406 L189.5,410 L187,410.5 Z" fill="#f5f5f5" stroke="#262626" stroke-width="0.98" /><path d="M166,389.5 Q170,392 169.5,396 M152,409 Q155,411 155,415.5" fill="none" stroke="#777" stroke-width="0.57" /><ellipse cx="179" cy="412" rx="8.6" ry="9.6" fill="#f8f8f8" stroke="#262626" stroke-width="1.15" /><ellipse cx="179.5" cy="412.3" rx="5.6" ry="7.2" fill="#fff" stroke="#262626" stroke-width="1.15" /><ellipse cx="180.3" cy="412.5" rx="4.2" ry="6" fill="none" stroke="#888" stroke-width="0.57" />
<ellipse cx="193.5" cy="490.5" rx="30.5" ry="46.5" transform="rotate(-9 193.5 490.5)" fill="#fafafa" stroke="#262626" stroke-width="1.05"/>
<path d="M164,450 L188,444 L201,537 L177,535.5 Z" fill="#fafafa" stroke="#262626" stroke-width="0" />
<path d="M163,451 L189,443.6" fill="none" stroke="#262626" stroke-width="1.15" />
<ellipse cx="190" cy="491.5" rx="30" ry="45" transform="rotate(-9 190 491.5)" fill="none" stroke="#666" stroke-width="0.5"/>
<ellipse cx="177" cy="492.5" rx="30.5" ry="43" transform="rotate(-9 177 492.5)" fill="#fdfdfd" stroke="#262626" stroke-width="1.15"/>
<ellipse cx="177.5" cy="492.5" rx="28.3" ry="40.8" transform="rotate(-9 177.5 492.5)" fill="none" stroke="#888" stroke-width="0.5"/>
<ellipse cx="179" cy="492" rx="21.5" ry="31.5" transform="rotate(-9 179 492)" fill="#fff" stroke="#262626" stroke-width="0.95"/>
<ellipse cx="183" cy="492.5" rx="18" ry="30.5" transform="rotate(-9 183 492.5)" fill="none" stroke="#262626" stroke-width="0.8"/>
<path d="M158.5,481 L167,479.5 L166.5,488 L158.5,489 Z" fill="#f4f4f4" stroke="#555" stroke-width="0.57" />
<path d="M169,512 L178.5,515.5 L176.5,521 L168,517.5 Z" fill="#f4f4f4" stroke="#555" stroke-width="0.57" />
<text transform="translate(167.5,456.3) rotate(14)" font-family="Liberation Sans" font-weight="bold" font-size="4.8" fill="#111" textLength="18" lengthAdjust="spacingAndGlyphs">DELLORTO</text>
<text transform="translate(171.5,533.8) rotate(-4)" font-family="Liberation Sans" font-weight="bold" font-size="4.6" fill="#111" textLength="9.5" lengthAdjust="spacingAndGlyphs">PHBG</text>
<path d="M471,408 L488,401.5 A18,25.5 0 0 1 488,452.5 L471,458 Z" fill="#f7f7f7" stroke="#262626" stroke-width="0" />
<ellipse cx="488" cy="427" rx="18" ry="25.5" transform="rotate(-4 488 427)" fill="#f7f7f7" stroke="#262626" stroke-width="1.05"/>
<path d="M466,409.5 L488,401.5" fill="none" stroke="#262626" stroke-width="1.21" />
<path d="M473,458 L492,452" fill="none" stroke="#262626" stroke-width="1.21" />
<path d="M480,403.5 A17,25 0 0 1 482,455" fill="none" stroke="#262626" stroke-width="0.8" />
<path d="M485,402 A17,25 0 0 1 487,453.5" fill="none" stroke="#666" stroke-width="0.57" />
<path d="M476,406 Q470,407 471,408 L490,404 Z" fill="#f7f7f7" stroke="#262626" stroke-width="0" />
<ellipse cx="470.5" cy="433" rx="18.6" ry="25" transform="rotate(-4 470.5 433)" fill="#f9f9f9" stroke="#262626" stroke-width="1.3"/>
<ellipse cx="471" cy="433" rx="16.5" ry="22.8" transform="rotate(-4 471 433)" fill="none" stroke="#444" stroke-width="0.6"/>
<ellipse cx="474.5" cy="432" rx="12" ry="22" transform="rotate(-4 474.5 432)" fill="#fff" stroke="#262626" stroke-width="1"/>
<path d="M467,414 Q460,432 468,452" fill="none" stroke="#888" stroke-width="0.57" />
<path d="M429,459 Q440,457 447,466 Q455,476 454.5,503 A6,3 0 0 1 442.5,503 Q443,480 437,473 Q432,469 428,469 A5,5 0 0 1 429,459 Z" fill="#fafafa" stroke="#262626" stroke-width="1.15" />
<path d="M434,460 Q431,465 432.5,469.5" fill="none" stroke="#888" stroke-width="0.57" />
<path d="M443,485 Q449,487 454.5,485" fill="none" stroke="#aaa" stroke-width="0.46" />
<ellipse cx="600" cy="276" rx="26" ry="37" transform="rotate(-8 600 276)" fill="#fafafa" stroke="#262626" stroke-width="1.05"/>
<ellipse cx="595" cy="276" rx="28" ry="37" transform="rotate(-8 595 276)" fill="#fafafa" stroke="#262626" stroke-width="1.1"/>
<ellipse cx="597" cy="278" rx="25" ry="34" transform="rotate(-8 597 278)" fill="none" stroke="#555" stroke-width="0.6"/>
<ellipse cx="602" cy="281" rx="19" ry="29" transform="rotate(-8 602 281)" fill="#fff" stroke="#262626" stroke-width="1"/>
<ellipse cx="599" cy="282" rx="16" ry="25.5" transform="rotate(-8 599 282)" fill="#fff" stroke="#262626" stroke-width="1"/>
<path d="M571.5,238 Q572,233 578,233 L588,234 Q594,236 593,244 L591,252 L585,252 Q587,244 583,242 L578,242 L576,252 L572,252 Z" fill="#f6f6f6" stroke="#262626" stroke-width="1.15" />
<path d="M576,252 Q573,258 574,262" fill="none" stroke="#262626" stroke-width="0.8" />
<path d="M608,241.5 L650,254 L649.5,267.5 L608,255 Z" fill="url(#cylv)" stroke="#262626" stroke-width="1.15" />
<path d="M604,238.5 L617,241 L617,259 L604,256 Z" fill="#f4f4f4" stroke="#262626" stroke-width="1.15" />
<path d="M610,240 L610,257.5" fill="none" stroke="#262626" stroke-width="0.57" />
<ellipse cx="650" cy="260.7" rx="3.6" ry="6.7" transform="rotate(6 650 260.7)" fill="#f8f8f8" stroke="#262626" stroke-width="1"/>
<line x1="648.5" y1="256" x2="651.5" y2="265" stroke="#262626" stroke-width="0.8" />
<line x1="578" y1="247" x2="610" y2="252" stroke="#999" stroke-width="0.46" />
<g transform="translate(281,496) rotate(-14)"><path d="M0,-4 L9,-4.5 A2.6,4.5 0 0 1 9,4.5 L0,4 Z" fill="url(#cylv)" stroke="#262626" stroke-width="0.92" /><line x1="5" y1="-4.3" x2="5" y2="4.3" stroke="#262626" stroke-width="0.57" /><ellipse cx="0" cy="0" rx="2.5" ry="4" fill="#333" stroke="#262626" stroke-width="0.92" /><ellipse cx="0" cy="0" rx="1.2" ry="2.2" fill="#aaa" stroke="#262626" stroke-width="0.34" /></g>
<path d="M312.5,581 L312.5,592 A7.1,1.7 0 0 0 326.7,592 L326.7,581 Z" fill="url(#cyl)" stroke="#262626" stroke-width="1.03"/><ellipse cx="319.6" cy="581" rx="7.1" ry="1.7" fill="#f2f2f2" stroke="#262626" stroke-width="1.03" /><line x1="316.41" y1="582.53" x2="316.41" y2="593.53" stroke="#262626" stroke-width="0.57" /><line x1="322.8" y1="582.53" x2="322.8" y2="593.53" stroke="#262626" stroke-width="0.57" />
<path d="M315.5,560.5 L315.5,581 A4.1,1.3 0 0 0 323.7,581 L323.7,560.5 Z" fill="url(#cyl)" stroke="#262626" stroke-width="1.03"/><ellipse cx="319.6" cy="560.5" rx="4.1" ry="1.3" fill="#fff" stroke="#262626" stroke-width="1.03" />
<path d="M314.7,555 L314.7,560.5 A4.9,1.4 0 0 0 324.5,560.5 L324.5,555 Z" fill="url(#cyl)" stroke="#262626" stroke-width="1.03"/><ellipse cx="319.6" cy="555" rx="4.9" ry="1.4" fill="#fff" stroke="#262626" stroke-width="1.03" />
<path d="M316.2,543.5 L316.2,555 A3.4,1.2 0 0 0 323,555 L323,543.5 Z" fill="url(#cyl)" stroke="#262626" stroke-width="1.03"/><ellipse cx="319.6" cy="543.5" rx="3.4" ry="1.2" fill="#ddd" stroke="#262626" stroke-width="1.03" />
<path d="M353.3,566 L353.3,576.5 A7,1.7 0 0 0 367.3,576.5 L367.3,566 Z" fill="url(#cyl)" stroke="#262626" stroke-width="1.03"/><ellipse cx="360.3" cy="566" rx="7" ry="1.7" fill="#f2f2f2" stroke="#262626" stroke-width="1.03" /><line x1="357.15" y1="567.53" x2="357.15" y2="578.03" stroke="#262626" stroke-width="0.57" /><line x1="363.45" y1="567.53" x2="363.45" y2="578.03" stroke="#262626" stroke-width="0.57" />
<path d="M355.8,535 L355.8,566 A4.5,1.3 0 0 0 364.8,566 L364.8,535 Z" fill="url(#cyl)" stroke="#262626" stroke-width="1.03"/><ellipse cx="360.3" cy="535" rx="4.5" ry="1.3" fill="#fff" stroke="#262626" stroke-width="1.03" />
<ellipse cx="357.5" cy="541" rx="0.6" ry="0.7" fill="#222" stroke="#262626" stroke-width="0" />
<ellipse cx="362.5" cy="543.5" rx="0.6" ry="0.7" fill="#222" stroke="#262626" stroke-width="0" />
<ellipse cx="357.5" cy="546" rx="0.6" ry="0.7" fill="#222" stroke="#262626" stroke-width="0" />
<ellipse cx="362.5" cy="548.5" rx="0.6" ry="0.7" fill="#222" stroke="#262626" stroke-width="0" />
<ellipse cx="357.5" cy="551" rx="0.6" ry="0.7" fill="#222" stroke="#262626" stroke-width="0" />
<ellipse cx="362.5" cy="553.5" rx="0.6" ry="0.7" fill="#222" stroke="#262626" stroke-width="0" />
<ellipse cx="357.5" cy="556" rx="0.6" ry="0.7" fill="#222" stroke="#262626" stroke-width="0" />
<ellipse cx="362.5" cy="558.5" rx="0.6" ry="0.7" fill="#222" stroke="#262626" stroke-width="0" />
<path d="M355.1,527 L355.1,534.5 A5.2,1.7 0 0 0 365.5,534.5 L365.5,527 Z" fill="url(#cyl)" stroke="#262626" stroke-width="1.03"/><ellipse cx="360.3" cy="527" rx="5.2" ry="1.7" fill="#eee" stroke="#262626" stroke-width="1.03" />
<line x1="355.1" y1="531" x2="365.5" y2="531" stroke="#262626" stroke-width="0.57" />
<ellipse cx="360.3" cy="527" rx="3" ry="1" fill="#555" stroke="#262626" stroke-width="0.46" />
<path d="M382.5,530 L382.5,535 Q386.5,537 390.5,535 L390.5,530 Z" fill="url(#cyl)" stroke="#262626" stroke-width="0.92" />
<path d="M383,529.5 L383,525 Q386.5,519 390,525 L390,529.5 Z" fill="#f6f6f6" stroke="#262626" stroke-width="0.92" />
<line x1="382.5" y1="530" x2="390.5" y2="530" stroke="#262626" stroke-width="0.69" />
<path d="M384.5,551 L381,556 L381,568 L388,568 L388,556 Z" fill="#fafafa" stroke="#262626" stroke-width="0.92" />
<line x1="381" y1="556" x2="388" y2="556" stroke="#262626" stroke-width="0.57" />
<line x1="383.2" y1="556" x2="383.2" y2="568" stroke="#262626" stroke-width="0.52" />
<line x1="385.8" y1="556" x2="385.8" y2="568" stroke="#262626" stroke-width="0.52" />
<line x1="384.5" y1="568" x2="384.5" y2="574" stroke="#262626" stroke-width="1.03" />
<ellipse cx="384.5" cy="574.5" rx="3.5" ry="1.4" fill="#eee" stroke="#262626" stroke-width="0.92" />
<path d="M408.9,570 L408.9,577.5 A5.1,1.5 0 0 0 419.1,577.5 L419.1,570 Z" fill="url(#cyl)" stroke="#262626" stroke-width="1.03"/><ellipse cx="414" cy="570" rx="5.1" ry="1.5" fill="#f2f2f2" stroke="#262626" stroke-width="1.03" /><line x1="411.7" y1="571.35" x2="411.7" y2="578.85" stroke="#262626" stroke-width="0.57" /><line x1="416.3" y1="571.35" x2="416.3" y2="578.85" stroke="#262626" stroke-width="0.57" />
<path d="M410.2,547 L410.2,570 A3.8,1.2 0 0 0 417.8,570 L417.8,547 Z" fill="url(#cyl)" stroke="#262626" stroke-width="1.03"/><ellipse cx="414" cy="547" rx="3.8" ry="1.2" fill="#fff" stroke="#262626" stroke-width="1.03" />
<ellipse cx="417" cy="553.5" rx="0.6" ry="0.7" fill="#222" stroke="#262626" stroke-width="0" />
<path d="M409.7,540 L409.7,547 A4.3,1.4 0 0 0 418.3,547 L418.3,540 Z" fill="url(#cyl)" stroke="#262626" stroke-width="1.03"/><ellipse cx="414" cy="540" rx="4.3" ry="1.4" fill="#eee" stroke="#262626" stroke-width="1.03" />
<line x1="409.7" y1="543" x2="418.3" y2="543" stroke="#262626" stroke-width="0.57" />
<ellipse cx="359.8" cy="592.3" rx="12" ry="4.6" fill="#f0f0f0" stroke="#262626" stroke-width="1.15" />
<ellipse cx="359.8" cy="592" rx="7" ry="1.8" fill="#555" stroke="#262626" stroke-width="0.69" />
<path d="M353.5,592 L366,592" fill="none" stroke="#eee" stroke-width="1.03" />
<path d="M354.5,608.5 L354.5,612.5 A5.7,1.8 0 0 0 365.9,612.5 L365.9,608.5 Z" fill="url(#cyl)" stroke="#262626" stroke-width="1.03"/><ellipse cx="360.2" cy="608.5" rx="5.7" ry="1.8" fill="#fff" stroke="#262626" stroke-width="1.03" />
<path d="M355.7,602.5 L355.7,608.5 A4.5,1.6 0 0 0 364.7,608.5 L364.7,602.5 Z" fill="url(#cyl)" stroke="#262626" stroke-width="1.03"/><ellipse cx="360.2" cy="602.5" rx="4.5" ry="1.6" fill="#f3f3f3" stroke="#262626" stroke-width="1.03" />
<path d="M433.5,584 L446,586 L462,589 L470,588 L472,593 L460,596 L445,594 L434,590 Z" fill="#e8e8e8" stroke="#262626" stroke-width="1.03" />
<path d="M446,582 L446,594 L449,594 L449,582 Z" fill="#eee" stroke="#262626" stroke-width="0.8" />
<ellipse cx="455.5" cy="593.5" rx="2.2" ry="2" fill="#444" stroke="#262626" stroke-width="0.69" />
<path d="M436,560 Q436,553 443,552 L455,550.5 Q464,550 467,556 L471,563 L470,583 Q458,586 440,582 Q436,580 436,575 Z" fill="#fafafa" stroke="#262626" stroke-width="1.21" />
<path d="M440,553 Q444,558 445,566 L445,582" fill="none" stroke="#777" stroke-width="0.57" />
<path d="M445,566 L470,562" fill="none" stroke="#777" stroke-width="0.57" />
<path d="M437,572 L470,569" fill="none" stroke="#262626" stroke-width="0.69" />
<path d="M465,570 Q466,565 473,564 L487,561 Q494,560 497,565 L500.5,576 Q501,592 493,594.5 L476,595.5 Q466,595 465,587 Z" fill="#fafafa" stroke="#262626" stroke-width="1.21" />
<path d="M472,564 Q476,570 476,580 L476,595" fill="none" stroke="#777" stroke-width="0.57" />
<path d="M476,570 L498,566" fill="none" stroke="#777" stroke-width="0.57" />
<path d="M465.5,582.5 L500.5,579" fill="none" stroke="#262626" stroke-width="0.8" />
<path d="M419.5,602.5 L447.5,610.8 A1.9,1.9 0 0 1 446.6,614.4 L418.6,606.1 A1.9,1.9 0 0 1 419.5,602.5 Z" fill="#f3f3f3" stroke="#262626" stroke-width="0.92" />
<line x1="444" y1="610" x2="443" y2="613.5" stroke="#262626" stroke-width="0.46" />
<defs><clipPath id="mclip"><ellipse cx="192" cy="603" rx="24.3" ry="34.5" transform="rotate(-10 192 603)"/></clipPath><pattern id="mpat" width="5.8" height="5" patternUnits="userSpaceOnUse" patternTransform="rotate(-22)"><path d="M0,0 L2.9,2.5 L5.8,0 M0,5 L2.9,2.5 L5.8,5" fill="none" stroke="#111" stroke-width="1.3"/></pattern></defs>
<ellipse cx="192" cy="603" rx="24.3" ry="34.5" transform="rotate(-10 192 603)" fill="url(#mpat)" stroke="#111" stroke-width="1.3"/>
<g clip-path="url(#mclip)">
<ellipse cx="196" cy="604" rx="24.3" ry="34.5" transform="rotate(-10 192 603)" fill="none" stroke="#111" stroke-width="1.4" opacity="0.8"/>
<ellipse cx="199" cy="604" rx="24.3" ry="34.5" transform="rotate(-10 192 603)" fill="none" stroke="#111" stroke-width="1.1" opacity="0.7"/>
<ellipse cx="202" cy="604" rx="24.3" ry="34.5" transform="rotate(-10 192 603)" fill="none" stroke="#111" stroke-width="0.9" opacity="0.6"/>
<ellipse cx="205" cy="604" rx="24.3" ry="34.5" transform="rotate(-10 192 603)" fill="none" stroke="#111" stroke-width="0.8" opacity="0.5"/>
</g>
<path d="M316,630.5 Q315,628 319,626 L344,619.8 Q346,619.3 349,619.3 L368,619.3 Q371,619.3 374,620.2 L400,628.5 Q404.5,630.5 401,633.5 L376,641.5 Q373,642.5 369,642.5 L351,642.5 Q347,642.5 344,641.5 L319,634 Q316,632.8 316,630.5 Z" fill="none" stroke="#262626" stroke-width="1.26" />
<path d="M319.5,630.5 L345,622.3 Q347,621.8 350,621.8 L368,621.8 Q371,621.8 373,622.5 L397.5,630.5 L375,639 Q372,640 369,640 L351,640 Q348,640 345.5,639.2 Z" fill="none" stroke="#262626" stroke-width="0.86" stroke-linejoin="round"/>
<path d="M316.5,676 L317,697 Q319,707 333,712 Q350,717 368,715.5 Q396,712 400.5,700 L402,678 Z" fill="#fafafa" stroke="#262626" stroke-width="1.15" />
<path d="M322,684 L322.5,698 Q326,706 345,709 L368,711" fill="none" stroke="#666" stroke-width="0.57" />
<path d="M346,686 L346,712 M351,687 L351,713" fill="none" stroke="#999" stroke-width="0.52" />
<path d="M370,690 Q373,705 392,707" fill="none" stroke="#999" stroke-width="0.52" />
<path d="M304.5,666 L355.5,655.5 L414,670.5 L358.5,681 Z" fill="#f9f9f9" stroke="#262626" stroke-width="1.15" />
<path d="M304.5,666 L305.5,672.5 L358.5,688.5 L358.5,681 Z" fill="#f0f0f0" stroke="#262626" stroke-width="1.15" />
<path d="M358.5,681 L358.5,688.5 L414,677 L414,670.5 Z" fill="#f5f5f5" stroke="#262626" stroke-width="1.15" />
<path d="M316.5,666 L356,657.8 L400.5,669.8 L357.8,678.8 Z" fill="#fdfdfd" stroke="#262626" stroke-width="1.72" stroke-linejoin="round"/>
<path d="M320,666.3 L356,659.8 L396,670 L358,676.8" fill="none" stroke="#555" stroke-width="0.57" />
<path d="M348,661 L348,677 M354,660 L354,678 M375,663 L375,675 M382,665 L382,674" fill="none" stroke="#999" stroke-width="0.52" />
<ellipse cx="311" cy="666.2" rx="2.2" ry="1.1" fill="#444" stroke="#262626" stroke-width="0.57" />
<ellipse cx="356.5" cy="657" rx="2.2" ry="1.1" fill="#444" stroke="#262626" stroke-width="0.57" />
<ellipse cx="406.5" cy="670.5" rx="2.2" ry="1.1" fill="#444" stroke="#262626" stroke-width="0.57" />
<ellipse cx="359" cy="680" rx="2.2" ry="1.1" fill="#444" stroke="#262626" stroke-width="0.57" />
<path d="M325.5,650.5 L325.5,669 A2.3,1 0 0 0 330.1,669 L330.1,650.5 Z" fill="url(#cyl)" stroke="#262626" stroke-width="1.03"/><ellipse cx="327.8" cy="650.5" rx="2.3" ry="1" fill="#bbb" stroke="#262626" stroke-width="1.03" />
<line x1="325.5" y1="655" x2="330.1" y2="655" stroke="#262626" stroke-width="0.57" />
<path d="M323.5,706 L323.5,715 Q327.5,718 331.5,715 L331.5,706 Z" fill="#f4f4f4" stroke="#262626" stroke-width="0.98" />
<path d="M332,710 L340,706.5 A2.2,3.6 0 0 1 342.5,713 L334,717 Z" fill="#f4f4f4" stroke="#262626" stroke-width="0.98" />
<g transform="translate(150.5,56.7)"><path d="M316.5,676 L317,697 Q319,707 333,712 Q350,717 368,715.5 Q396,712 400.5,700 L402,678 Z" fill="#fafafa" stroke="#262626" stroke-width="1.15" />
<path d="M322,684 L322.5,698 Q326,706 345,709 L368,711" fill="none" stroke="#666" stroke-width="0.57" />
<path d="M346,686 L346,712 M351,687 L351,713" fill="none" stroke="#999" stroke-width="0.52" />
<path d="M370,690 Q373,705 392,707" fill="none" stroke="#999" stroke-width="0.52" />
<path d="M304.5,666 L355.5,655.5 L414,670.5 L358.5,681 Z" fill="#f9f9f9" stroke="#262626" stroke-width="1.15" />
<path d="M304.5,666 L305.5,672.5 L358.5,688.5 L358.5,681 Z" fill="#f0f0f0" stroke="#262626" stroke-width="1.15" />
<path d="M358.5,681 L358.5,688.5 L414,677 L414,670.5 Z" fill="#f5f5f5" stroke="#262626" stroke-width="1.15" />
<path d="M316.5,666 L356,657.8 L400.5,669.8 L357.8,678.8 Z" fill="#fdfdfd" stroke="#262626" stroke-width="1.72" stroke-linejoin="round"/>
<path d="M320,666.3 L356,659.8 L396,670 L358,676.8" fill="none" stroke="#555" stroke-width="0.57" />
<path d="M348,661 L348,677 M354,660 L354,678 M375,663 L375,675 M382,665 L382,674" fill="none" stroke="#999" stroke-width="0.52" />
<ellipse cx="311" cy="666.2" rx="2.2" ry="1.1" fill="#444" stroke="#262626" stroke-width="0.57" />
<ellipse cx="356.5" cy="657" rx="2.2" ry="1.1" fill="#444" stroke="#262626" stroke-width="0.57" />
<ellipse cx="406.5" cy="670.5" rx="2.2" ry="1.1" fill="#444" stroke="#262626" stroke-width="0.57" />
<ellipse cx="359" cy="680" rx="2.2" ry="1.1" fill="#444" stroke="#262626" stroke-width="0.57" />
<path d="M319,704 Q322,712 332,713 L332,718 Q324,718 320,712 Z" fill="#fafafa" stroke="#262626" stroke-width="0.92" /></g>
<path d="M305.1,722.5 L305.1,726.5 A6.2,2 0 0 0 317.5,726.5 L317.5,722.5 Z" fill="url(#cyl)" stroke="#262626" stroke-width="1.03"/><ellipse cx="311.3" cy="722.5" rx="6.2" ry="2" fill="#fff" stroke="#262626" stroke-width="1.03" />
<path d="M308.3,709.5 L308.3,723 A3,1.1 0 0 0 314.3,723 L314.3,709.5 Z" fill="url(#cyl)" stroke="#262626" stroke-width="1.03"/><ellipse cx="311.3" cy="709.5" rx="3" ry="1.1" fill="#f2f2f2" stroke="#262626" stroke-width="1.03" />
<line x1="308.3" y1="712.5" x2="314.3" y2="712.5" stroke="#262626" stroke-width="0.57" />
<ellipse cx="311.3" cy="709.5" rx="1.8" ry="0.7" fill="#555" stroke="#262626" stroke-width="0.34" />
<path d="M353.8,737.5 L353.8,741.5 A6.2,2 0 0 0 366.2,741.5 L366.2,737.5 Z" fill="url(#cyl)" stroke="#262626" stroke-width="1.03"/><ellipse cx="360" cy="737.5" rx="6.2" ry="2" fill="#fff" stroke="#262626" stroke-width="1.03" />
<path d="M357,724.5 L357,738 A3,1.1 0 0 0 363,738 L363,724.5 Z" fill="url(#cyl)" stroke="#262626" stroke-width="1.03"/><ellipse cx="360" cy="724.5" rx="3" ry="1.1" fill="#f2f2f2" stroke="#262626" stroke-width="1.03" />
<line x1="357" y1="727.5" x2="363" y2="727.5" stroke="#262626" stroke-width="0.57" />
<ellipse cx="360" cy="724.5" rx="1.8" ry="0.7" fill="#555" stroke="#262626" stroke-width="0.34" />
<path d="M400.6,726.5 L400.6,730.5 A6.2,2 0 0 0 413,730.5 L413,726.5 Z" fill="url(#cyl)" stroke="#262626" stroke-width="1.03"/><ellipse cx="406.8" cy="726.5" rx="6.2" ry="2" fill="#fff" stroke="#262626" stroke-width="1.03" />
<path d="M403.8,713.5 L403.8,727 A3,1.1 0 0 0 409.8,727 L409.8,713.5 Z" fill="url(#cyl)" stroke="#262626" stroke-width="1.03"/><ellipse cx="406.8" cy="713.5" rx="3" ry="1.1" fill="#f2f2f2" stroke="#262626" stroke-width="1.03" />
<line x1="403.8" y1="716.5" x2="409.8" y2="716.5" stroke="#262626" stroke-width="0.57" />
<ellipse cx="406.8" cy="713.5" rx="1.8" ry="0.7" fill="#555" stroke="#262626" stroke-width="0.34" />
<ellipse cx="359" cy="754.3" rx="11.7" ry="3.8" fill="#f0f0f0" stroke="#262626" stroke-width="1.26" />
<ellipse cx="359" cy="754.3" rx="8.2" ry="2.3" fill="#fff" stroke="#262626" stroke-width="1.03" />
<path d="M343,774 L343,779 Q344,786 359.5,786 Q375,786 376,779 L376,774 Z" fill="url(#cyl)" stroke="#262626" stroke-width="1.15" />
<path d="M350,778 L350,785 M369,778 L369,785" fill="none" stroke="#262626" stroke-width="0.57" />
<ellipse cx="359.5" cy="774" rx="16.5" ry="5" fill="#f4f4f4" stroke="#262626" stroke-width="1.26" />
<ellipse cx="359.5" cy="773.5" rx="12" ry="3.4" fill="#eee" stroke="#262626" stroke-width="0.92" />
<path d="M350.5,764.5 L350.5,773 A9,2.5 0 0 0 368.5,773 L368.5,764.5 Z" fill="url(#cyl)" stroke="#262626" stroke-width="1.03"/><ellipse cx="359.5" cy="764.5" rx="9" ry="2.5" fill="#e6e6e6" stroke="#262626" stroke-width="1.03" />
<ellipse cx="359.5" cy="764.5" rx="6" ry="1.6" fill="#fff" stroke="#262626" stroke-width="0.8" />
<rect x="565.5" y="400.5" width="96.75" height="64.8" fill="#fff" stroke="#c8c8c8" stroke-width="0.8"/>
<rect x="567.6" y="403" width="93.6" height="18.8" fill="#0c0c0c"/>
<rect x="567.6" y="421.8" width="93.6" height="41.9" fill="#e8111b"/>
<rect x="570" y="442.5" width="88.6" height="18" fill="#fff"/>
<g fill="none" stroke="#fff" stroke-width="1.75" stroke-linecap="butt">
<path d="M579,407.9 L579,418.6 L582,418.6 Q585.6,418.6 585.6,413.25 Q585.6,407.9 582,407.9 Z"/>
<path d="M593.7,407.9 L588.4,407.9 L588.4,418.6 L593.7,418.6 M588.4,413.2 L593,413.2"/>
<path d="M596.5,407.5 L596.5,418.6 L601.3,418.6"/>
<path d="M603.8,407.5 L603.8,418.6 L608.8,418.6"/>
<circle cx="612.6" cy="411.4" r="2.5"/>
<path d="M618.5,419 L618.5,407.9 L621.6,407.9 Q625,407.9 625,411 Q625,414.1 621.6,414.1 L618.5,414.1 M621.8,414.1 L625.2,419"/>
<path d="M625.6,408.2 L637.2,408.2 M631.4,408.2 L631.4,418.6"/>
<circle cx="642.5" cy="416" r="2.6"/>
</g>
<line x1="635" y1="410" x2="660" y2="403.5" stroke="#666" stroke-width="0.4"/>
<text x="570.7" y="436.8" font-family="Liberation Sans" font-weight="bold" font-size="10.8" fill="#fbecec" textLength="55" lengthAdjust="spacingAndGlyphs">CARBURATORI</text>
<polygon points="638,432.6 646.9,426 655.8,432.6 646.9,439.2" fill="#fff"/>
<text x="646.9" y="434.4" text-anchor="middle" font-family="Liberation Sans" font-weight="bold" font-size="4.6" fill="#e8111b" textLength="9" lengthAdjust="spacingAndGlyphs">ENC</text>
<text x="611" y="451.2" text-anchor="middle" font-family="Liberation Sans" font-weight="bold" font-size="6" fill="#111" textLength="28.5" lengthAdjust="spacingAndGlyphs">52641.00.77</text>
<text x="611.6" y="458.3" text-anchor="middle" font-family="Liberation Sans" font-weight="bold" font-size="4.6" fill="#111" textLength="51.75" lengthAdjust="spacingAndGlyphs">GUARNIZIONI PHDG...</text>
<line x1="311.5" y1="19.5" x2="353" y2="31" stroke="#4583bf" stroke-width="0.75"/>
<polygon points="353,31 348.58,31.23 349.33,28.53" fill="#4583bf"/>
<circle cx="302.5" cy="17" r="9.2" fill="#fff" stroke="#5a84ae" stroke-width="0.95"/>
<text x="302.5" y="20.9" text-anchor="middle" class="n">11</text>
<line x1="310.5" y1="55" x2="355" y2="79" stroke="#4583bf" stroke-width="0.75"/>
<polygon points="355,79 350.64,78.24 351.97,75.77" fill="#4583bf"/>
<circle cx="302.5" cy="50.5" r="9.2" fill="#fff" stroke="#5a84ae" stroke-width="0.95"/>
<text x="302.5" y="54.4" text-anchor="middle" class="n">12</text>
<line x1="310.5" y1="91" x2="352" y2="109" stroke="#4583bf" stroke-width="0.75"/>
<polygon points="352,109 347.59,108.61 348.70,106.04" fill="#4583bf"/>
<circle cx="302.5" cy="86.6" r="9.2" fill="#fff" stroke="#5a84ae" stroke-width="0.95"/>
<text x="302.5" y="90.5" text-anchor="middle" class="n">13</text>
<line x1="435" y1="38" x2="427" y2="106" stroke="#4583bf" stroke-width="0.75"/>
<polygon points="427,106 426.10,101.67 428.88,101.99" fill="#4583bf"/>
<circle cx="436.3" cy="28.8" r="9.2" fill="#fff" stroke="#5a84ae" stroke-width="0.95"/>
<text x="436.3" y="32.7" text-anchor="middle" class="n">14</text>
<line x1="486" y1="37" x2="500" y2="62" stroke="#4583bf" stroke-width="0.75"/>
<polygon points="500,62 496.73,59.02 499.17,57.65" fill="#4583bf"/>
<circle cx="482" cy="28.6" r="9.2" fill="#fff" stroke="#5a84ae" stroke-width="0.95"/>
<text x="482" y="32.5" text-anchor="middle" class="n">15</text>
<line x1="537" y1="36" x2="548" y2="47" stroke="#4583bf" stroke-width="0.75"/>
<polygon points="548,47 544.04,45.02 546.02,43.04" fill="#4583bf"/>
<circle cx="530.6" cy="29" r="9.2" fill="#fff" stroke="#5a84ae" stroke-width="0.95"/>
<text x="530.6" y="32.9" text-anchor="middle" class="n">16</text>
<line x1="640" y1="38" x2="632" y2="58" stroke="#4583bf" stroke-width="0.75"/>
<polygon points="632,58 632.26,53.58 634.86,54.62" fill="#4583bf"/>
<circle cx="643" cy="29" r="9.2" fill="#fff" stroke="#5a84ae" stroke-width="0.95"/>
<text x="643" y="32.9" text-anchor="middle" class="n">10</text>
<line x1="404" y1="156" x2="383" y2="156" stroke="#4583bf" stroke-width="0.75"/>
<circle cx="383" cy="156" r="2.2" fill="#4583bf"/>
<circle cx="413" cy="156" r="9.2" fill="#fff" stroke="#5a84ae" stroke-width="0.95"/>
<text x="413" y="159.9" text-anchor="middle" class="n">17</text>
<line x1="404" y1="189" x2="375" y2="206" stroke="#4583bf" stroke-width="0.75"/>
<polygon points="375,206 377.92,202.67 379.33,205.08" fill="#4583bf"/>
<circle cx="412.6" cy="183.4" r="9.2" fill="#fff" stroke="#5a84ae" stroke-width="0.95"/>
<text x="412.6" y="187.3" text-anchor="middle" class="n">18</text>
<line x1="404" y1="221" x2="373" y2="247" stroke="#4583bf" stroke-width="0.75"/>
<polygon points="373,247 375.32,243.23 377.12,245.37" fill="#4583bf"/>
<circle cx="412.6" cy="215.6" r="9.2" fill="#fff" stroke="#5a84ae" stroke-width="0.95"/>
<text x="412.6" y="219.5" text-anchor="middle" class="n">19</text>
<line x1="404" y1="247" x2="366" y2="263" stroke="#4583bf" stroke-width="0.75"/>
<polygon points="366,263 369.33,260.08 370.41,262.66" fill="#4583bf"/>
<circle cx="412.6" cy="241" r="9.2" fill="#fff" stroke="#5a84ae" stroke-width="0.95"/>
<text x="412.6" y="244.9" text-anchor="middle" class="n">20</text>
<line x1="404" y1="270" x2="364" y2="296" stroke="#4583bf" stroke-width="0.75"/>
<polygon points="364,296 366.76,292.54 368.28,294.88" fill="#4583bf"/>
<circle cx="412.6" cy="264" r="9.2" fill="#fff" stroke="#5a84ae" stroke-width="0.95"/>
<text x="412.6" y="267.9" text-anchor="middle" class="n">02</text>
<line x1="405" y1="296" x2="370" y2="336" stroke="#4583bf" stroke-width="0.75"/>
<polygon points="370,336 371.71,331.92 373.82,333.76" fill="#4583bf"/>
<circle cx="412" cy="287.4" r="9.2" fill="#fff" stroke="#5a84ae" stroke-width="0.95"/>
<text x="412" y="291.29999999999995" text-anchor="middle" class="n">01</text>
<line x1="250" y1="179" x2="279" y2="186" stroke="#4583bf" stroke-width="0.75"/>
<polygon points="279,186 274.59,186.38 275.25,183.65" fill="#4583bf"/>
<circle cx="241.3" cy="176.3" r="9.2" fill="#fff" stroke="#5a84ae" stroke-width="0.95"/>
<text x="241.3" y="180.20000000000002" text-anchor="middle" class="n">21</text>
<line x1="279" y1="300" x2="290" y2="312" stroke="#4583bf" stroke-width="0.75"/>
<polygon points="290,312 286.13,309.85 288.19,307.96" fill="#4583bf"/>
<circle cx="270" cy="295" r="9.2" fill="#fff" stroke="#5a84ae" stroke-width="0.95"/>
<text x="270" y="298.9" text-anchor="middle" class="n">22</text>
<line x1="181" y1="303" x2="230" y2="369" stroke="#4583bf" stroke-width="0.75"/>
<polygon points="230,369 226.37,366.46 228.62,364.79" fill="#4583bf"/>
<circle cx="175" cy="295" r="9.2" fill="#fff" stroke="#5a84ae" stroke-width="0.95"/>
<text x="175" y="298.9" text-anchor="middle" class="n">34</text>
<line x1="213" y1="304" x2="247" y2="372" stroke="#4583bf" stroke-width="0.75"/>
<polygon points="247,372 243.87,368.87 246.37,367.62" fill="#4583bf"/>
<circle cx="208" cy="295" r="9.2" fill="#fff" stroke="#5a84ae" stroke-width="0.95"/>
<text x="208" y="298.9" text-anchor="middle" class="n">35</text>
<line x1="246" y1="304" x2="292" y2="411" stroke="#4583bf" stroke-width="0.75"/>
<polygon points="292,411 289.06,407.69 291.63,406.59" fill="#4583bf"/>
<circle cx="241.6" cy="295" r="9.2" fill="#fff" stroke="#5a84ae" stroke-width="0.95"/>
<text x="241.6" y="298.9" text-anchor="middle" class="n">36</text>
<line x1="679" y1="253" x2="658" y2="265" stroke="#4583bf" stroke-width="0.75"/>
<polygon points="658,265 660.95,261.70 662.34,264.13" fill="#4583bf"/>
<circle cx="687.4" cy="247.9" r="9.2" fill="#fff" stroke="#5a84ae" stroke-width="0.95"/>
<text x="687.4" y="251.8" text-anchor="middle" class="n">33</text>
<line x1="134" y1="333" x2="243" y2="415" stroke="#4583bf" stroke-width="0.75"/>
<polygon points="243,415 238.80,413.59 240.49,411.36" fill="#4583bf"/>
<circle cx="126.1" cy="326.7" r="9.2" fill="#fff" stroke="#5a84ae" stroke-width="0.95"/>
<text x="126.1" y="330.59999999999997" text-anchor="middle" class="n">38</text>
<line x1="134" y1="362" x2="220" y2="413" stroke="#4583bf" stroke-width="0.75"/>
<polygon points="220,413 215.67,412.06 217.10,409.65" fill="#4583bf"/>
<circle cx="126.1" cy="355.8" r="9.2" fill="#fff" stroke="#5a84ae" stroke-width="0.95"/>
<text x="126.1" y="359.7" text-anchor="middle" class="n">39</text>
<line x1="134" y1="397" x2="158" y2="407" stroke="#4583bf" stroke-width="0.75"/>
<polygon points="158,407 153.58,406.68 154.66,404.09" fill="#4583bf"/>
<circle cx="126.1" cy="392" r="9.2" fill="#fff" stroke="#5a84ae" stroke-width="0.95"/>
<text x="126.1" y="395.9" text-anchor="middle" class="n">40</text>
<line x1="515" y1="376" x2="396" y2="346.5" stroke="#4583bf" stroke-width="0.75"/>
<polygon points="396,346.5 400.41,346.15 399.74,348.87" fill="#4583bf"/>
<circle cx="524" cy="378.8" r="9.2" fill="#fff" stroke="#5a84ae" stroke-width="0.95"/>
<text x="524" y="382.7" text-anchor="middle" class="n">41</text>
<line x1="515" y1="400" x2="393" y2="371.5" stroke="#4583bf" stroke-width="0.75"/>
<polygon points="393,371.5 397.41,371.09 396.77,373.82" fill="#4583bf"/>
<circle cx="524" cy="402.8" r="9.2" fill="#fff" stroke="#5a84ae" stroke-width="0.95"/>
<text x="524" y="406.7" text-anchor="middle" class="n">42</text>
<line x1="515" y1="443" x2="504" y2="441" stroke="#4583bf" stroke-width="0.75"/>
<polygon points="504,441 508.38,440.37 507.88,443.13" fill="#4583bf"/>
<circle cx="524" cy="444" r="9.2" fill="#fff" stroke="#5a84ae" stroke-width="0.95"/>
<text x="524" y="447.9" text-anchor="middle" class="n">24</text>
<line x1="515" y1="475" x2="452" y2="468" stroke="#4583bf" stroke-width="0.75"/>
<polygon points="452,468 456.33,467.07 456.02,469.86" fill="#4583bf"/>
<circle cx="523.8" cy="476.3" r="9.2" fill="#fff" stroke="#5a84ae" stroke-width="0.95"/>
<text x="523.8" y="480.2" text-anchor="middle" class="n">43</text>
<line x1="515" y1="506" x2="390.6" y2="526.5" stroke="#4583bf" stroke-width="0.75"/>
<polygon points="390.6,526.5 394.52,524.44 394.97,527.20" fill="#4583bf"/>
<circle cx="523.8" cy="504.6" r="9.2" fill="#fff" stroke="#5a84ae" stroke-width="0.95"/>
<text x="523.8" y="508.5" text-anchor="middle" class="n">06</text>
<line x1="515" y1="535" x2="419" y2="556" stroke="#4583bf" stroke-width="0.75"/>
<polygon points="419,556 422.80,553.73 423.40,556.47" fill="#4583bf"/>
<circle cx="523.8" cy="532.6" r="9.2" fill="#fff" stroke="#5a84ae" stroke-width="0.95"/>
<text x="523.8" y="536.5" text-anchor="middle" class="n">07</text>
<line x1="517" y1="581" x2="501" y2="580" stroke="#4583bf" stroke-width="0.75"/>
<polygon points="501,580 505.28,578.86 505.10,581.66" fill="#4583bf"/>
<circle cx="526.4" cy="580.9" r="9.2" fill="#fff" stroke="#5a84ae" stroke-width="0.95"/>
<text x="526.4" y="584.8" text-anchor="middle" class="n">08</text>
<line x1="135" y1="456" x2="150" y2="463" stroke="#4583bf" stroke-width="0.75"/>
<polygon points="150,463 145.60,462.49 146.79,459.96" fill="#4583bf"/>
<circle cx="125.8" cy="452.6" r="9.2" fill="#fff" stroke="#5a84ae" stroke-width="0.95"/>
<text x="125.8" y="456.5" text-anchor="middle" class="n">23</text>
<line x1="135" y1="588" x2="167" y2="596" stroke="#4583bf" stroke-width="0.75"/>
<polygon points="167,596 162.59,596.34 163.26,593.62" fill="#4583bf"/>
<circle cx="125.8" cy="585.5" r="9.2" fill="#fff" stroke="#5a84ae" stroke-width="0.95"/>
<text x="125.8" y="589.4" text-anchor="middle" class="n">44</text>
<line x1="603" y1="489" x2="618" y2="466" stroke="#4583bf" stroke-width="0.75"/>
<polygon points="618,466 616.88,470.28 614.53,468.75" fill="#4583bf"/>
<circle cx="597.8" cy="498" r="9.2" fill="#fff" stroke="#5a84ae" stroke-width="0.95"/>
<text x="597.8" y="501.9" text-anchor="middle" class="n">45</text>
<line x1="259" y1="501" x2="279" y2="497" stroke="#4583bf" stroke-width="0.75"/>
<polygon points="279,497 275.16,499.20 274.61,496.45" fill="#4583bf"/>
<circle cx="250" cy="503" r="9.2" fill="#fff" stroke="#5a84ae" stroke-width="0.95"/>
<text x="250" y="506.9" text-anchor="middle" class="n">09</text>
<line x1="259" y1="532" x2="355" y2="541" stroke="#4583bf" stroke-width="0.75"/>
<polygon points="355,541 350.69,542.00 350.95,539.21" fill="#4583bf"/>
<circle cx="249.5" cy="531" r="9.2" fill="#fff" stroke="#5a84ae" stroke-width="0.95"/>
<text x="249.5" y="534.9" text-anchor="middle" class="n">03</text>
<line x1="259" y1="565" x2="315" y2="577" stroke="#4583bf" stroke-width="0.75"/>
<polygon points="315,577 310.60,577.49 311.19,574.75" fill="#4583bf"/>
<circle cx="250" cy="562" r="9.2" fill="#fff" stroke="#5a84ae" stroke-width="0.95"/>
<text x="250" y="565.9" text-anchor="middle" class="n">04</text>
<line x1="259" y1="597" x2="348" y2="592" stroke="#4583bf" stroke-width="0.75"/>
<polygon points="348,592 343.89,593.63 343.73,590.84" fill="#4583bf"/>
<circle cx="250" cy="597.6" r="9.2" fill="#fff" stroke="#5a84ae" stroke-width="0.95"/>
<text x="250" y="601.5" text-anchor="middle" class="n">37</text>
<line x1="259" y1="627" x2="355" y2="606" stroke="#4583bf" stroke-width="0.75"/>
<polygon points="355,606 351.20,608.27 350.60,605.53" fill="#4583bf"/>
<circle cx="250" cy="629" r="9.2" fill="#fff" stroke="#5a84ae" stroke-width="0.95"/>
<text x="250" y="632.9" text-anchor="middle" class="n">05</text>
<line x1="515" y1="621" x2="388" y2="568.6" stroke="#4583bf" stroke-width="0.75"/>
<polygon points="388,568.6 392.42,568.91 391.35,571.50" fill="#4583bf"/>
<circle cx="524" cy="623" r="9.2" fill="#fff" stroke="#5a84ae" stroke-width="0.95"/>
<text x="524" y="626.9" text-anchor="middle" class="n">25</text>
<line x1="515" y1="643" x2="448" y2="613.6" stroke="#4583bf" stroke-width="0.75"/>
<polygon points="448,613.6 452.41,614.01 451.28,616.57" fill="#4583bf"/>
<circle cx="524" cy="646" r="9.2" fill="#fff" stroke="#5a84ae" stroke-width="0.95"/>
<text x="524" y="649.9" text-anchor="middle" class="n">26</text>
<line x1="515" y1="666" x2="404" y2="634" stroke="#4583bf" stroke-width="0.75"/>
<polygon points="404,634 408.42,633.82 407.65,636.51" fill="#4583bf"/>
<circle cx="524" cy="668" r="9.2" fill="#fff" stroke="#5a84ae" stroke-width="0.95"/>
<text x="524" y="671.9" text-anchor="middle" class="n">27</text>
<line x1="259" y1="661" x2="308" y2="675.5" stroke="#4583bf" stroke-width="0.75"/>
<polygon points="308,675.5 303.58,675.65 304.37,672.97" fill="#4583bf"/>
<circle cx="249.8" cy="657" r="9.2" fill="#fff" stroke="#5a84ae" stroke-width="0.95"/>
<text x="249.8" y="660.9" text-anchor="middle" class="n">28</text>
<line x1="258" y1="695" x2="308" y2="719.6" stroke="#4583bf" stroke-width="0.75"/>
<polygon points="308,719.6 303.61,719.00 304.85,716.49" fill="#4583bf"/>
<circle cx="249.8" cy="690.2" r="9.2" fill="#fff" stroke="#5a84ae" stroke-width="0.95"/>
<text x="249.8" y="694.1" text-anchor="middle" class="n">29</text>
<line x1="259" y1="726" x2="347" y2="754" stroke="#4583bf" stroke-width="0.75"/>
<polygon points="347,754 342.57,754.06 343.42,751.39" fill="#4583bf"/>
<circle cx="249.8" cy="722.3" r="9.2" fill="#fff" stroke="#5a84ae" stroke-width="0.95"/>
<text x="249.8" y="726.1999999999999" text-anchor="middle" class="n">30</text>
<line x1="259" y1="756" x2="344" y2="772" stroke="#4583bf" stroke-width="0.75"/>
<polygon points="344,772 339.61,772.60 340.13,769.85" fill="#4583bf"/>
<circle cx="249.8" cy="753.8" r="9.2" fill="#fff" stroke="#5a84ae" stroke-width="0.95"/>
<text x="249.8" y="757.6999999999999" text-anchor="middle" class="n">31</text>
<line x1="517" y1="702" x2="494" y2="732" stroke="#4583bf" stroke-width="0.75"/>
<polygon points="494,732 495.44,727.82 497.67,729.52" fill="#4583bf"/>
<circle cx="523.1" cy="693.6" r="9.2" fill="#fff" stroke="#5a84ae" stroke-width="0.95"/>
<text x="523.1" y="697.5" text-anchor="middle" class="n">32</text>
</svg>
</body></html>
